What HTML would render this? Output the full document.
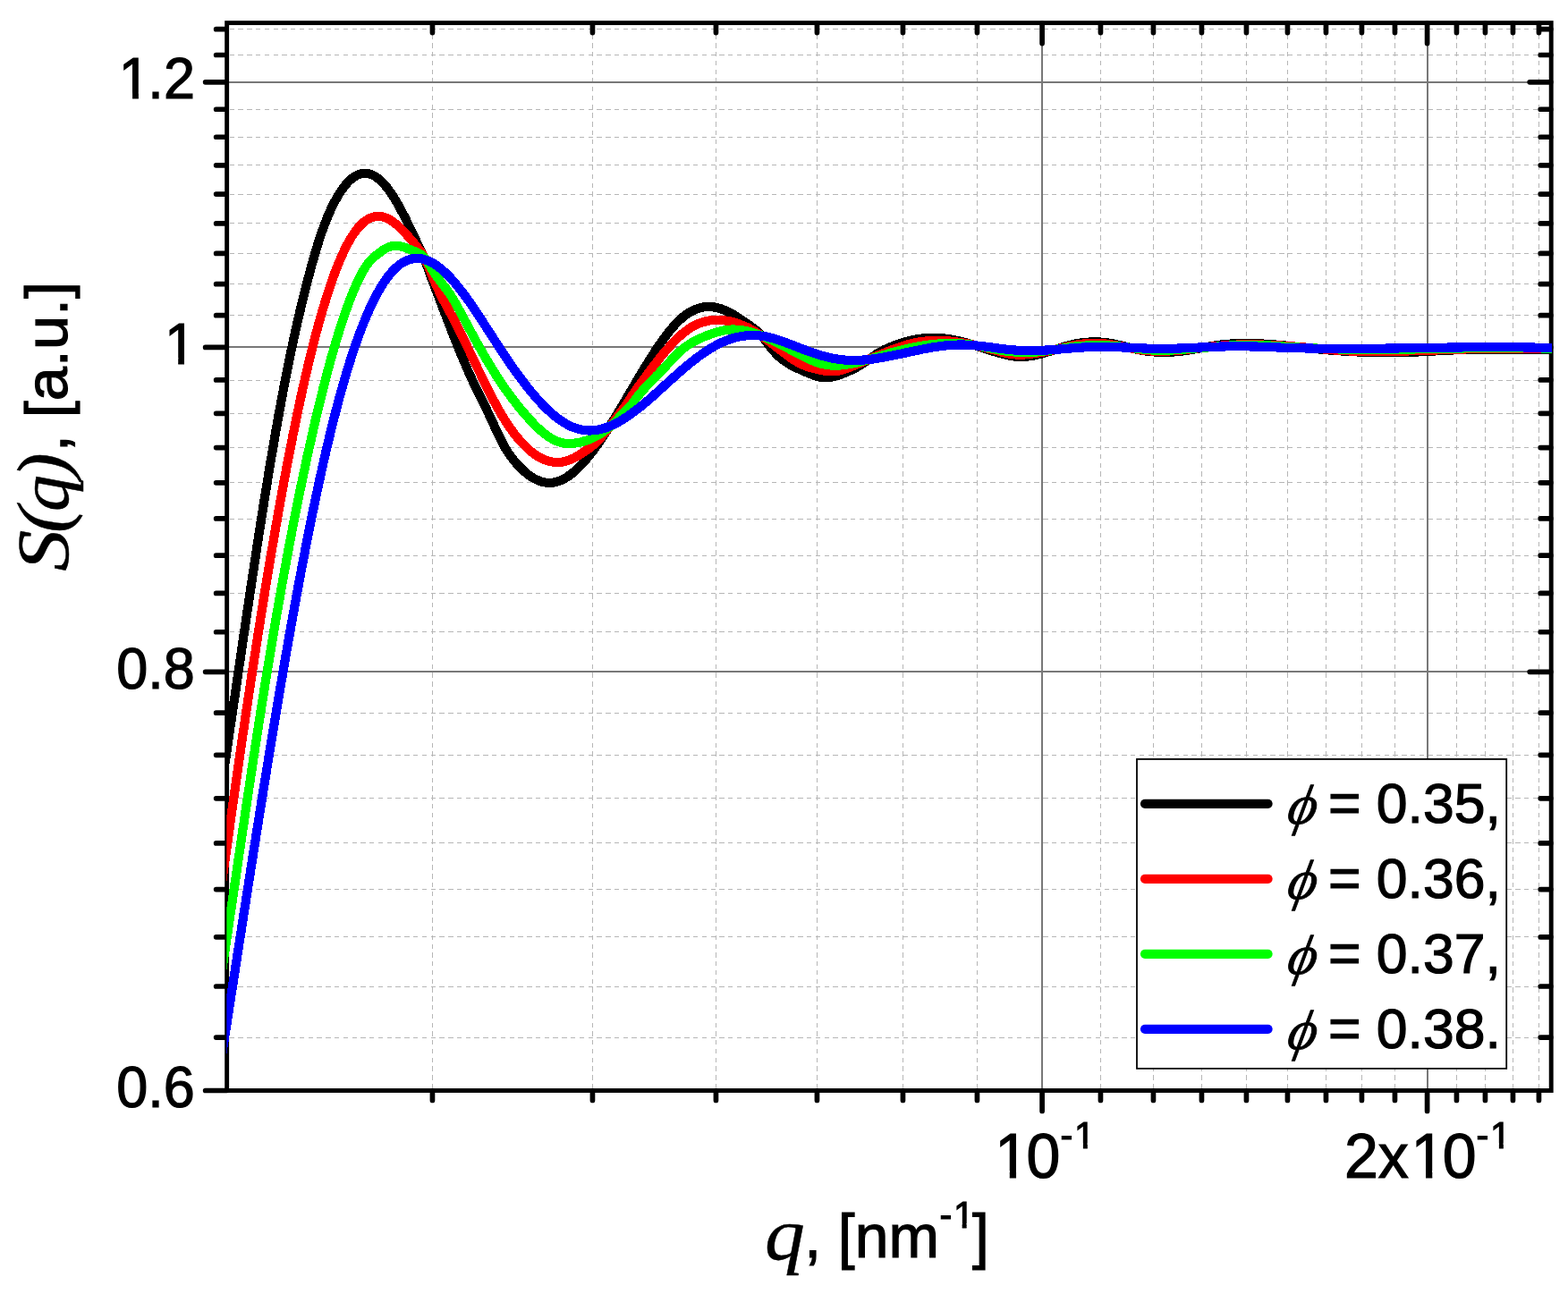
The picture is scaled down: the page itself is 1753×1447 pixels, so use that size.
<!DOCTYPE html>
<html lang="en"><head><meta charset="utf-8"><title>S(q) structure factor</title>
<style>html,body{margin:0;padding:0;background:#fff}body{width:1753px;height:1447px;overflow:hidden}svg{display:block}.s{font-family:"Liberation Sans",Arial,sans-serif;fill:#000;stroke:#000;stroke-width:1.2px;stroke-linejoin:miter}.t{font-family:"Liberation Serif","Times New Roman",serif;font-style:italic;fill:#000;stroke:#000;stroke-width:0.9px}</style></head><body>
<svg width="1753" height="1447" viewBox="0 0 1753 1447">
<rect x="0" y="0" width="1753" height="1447" fill="#fff"/>
<defs><clipPath id="c"><rect x="253.35" y="25.60" width="1481.65" height="1193.90"/></clipPath></defs>
<path d="M483.5 28.6V1219.5M662.5 28.6V1219.5M800.5 28.6V1219.5M913.5 28.6V1219.5M1009.5 28.6V1219.5M1092.5 28.6V1219.5M1230.5 28.6V1219.5M1289.5 28.6V1219.5M1343.5 28.6V1219.5M1393.5 28.6V1219.5M1439.5 28.6V1219.5M1482.5 28.6V1219.5M1522.5 28.6V1219.5M1559.5 28.6V1219.5M1628.5 28.6V1219.5M1660.5 28.6V1219.5M1691.5 28.6V1219.5M1720.5 28.6V1219.5M256.6 1160.5H1734.2M256.6 1103.5H1734.2M256.6 1047.5H1734.2M256.6 994.5H1734.2M256.6 942.5H1734.2M256.6 892.5H1734.2M256.6 844.5H1734.2M256.6 797.5H1734.2M256.6 706.5H1734.2M256.6 663.5H1734.2M256.6 621.5H1734.2M256.6 580.5H1734.2M256.6 539.5H1734.2M256.6 500.5H1734.2M256.6 462.5H1734.2M256.6 425.5H1734.2M256.6 352.5H1734.2M256.6 317.5H1734.2M256.6 283.5H1734.2M256.6 249.5H1734.2M256.6 217.5H1734.2M256.6 184.5H1734.2M256.6 153.5H1734.2M256.6 122.5H1734.2M256.6 61.5H1734.2M256.6 32.5H1734.2" fill="none" stroke="#b6b6b6" stroke-width="1" stroke-dasharray="5.4 4.38" shape-rendering="crispEdges"/>
<path d="M253.65 751.0H1734.20M253.65 388.0H1734.20M253.65 92.0H1734.20M1165.0 25.60V1219.50M1596.0 25.60V1219.50" fill="none" stroke="#787878" stroke-width="2" shape-rendering="crispEdges"/>
<rect x="253.65" y="25.60" width="1480.55" height="1193.90" fill="none" stroke="#000" stroke-width="4.90"/>
<path d="M253.25 1219.50H229.65M253.25 751.33H229.65M1733.80 751.33H1710.20M253.25 388.40H229.65M1733.80 388.40H1710.20M253.25 91.87H229.65M1733.80 91.87H1710.20M253.25 1160.07H241.65M1733.80 1160.07H1722.20M253.25 1103.00H241.65M1733.80 1103.00H1722.20M253.25 1047.86H241.65M1733.80 1047.86H1722.20M253.25 994.53H241.65M1733.80 994.53H1722.20M253.25 942.89H241.65M1733.80 942.89H1722.20M253.25 892.85H241.65M1733.80 892.85H1722.20M253.25 844.29H241.65M1733.80 844.29H1722.20M253.25 797.15H241.65M1733.80 797.15H1722.20M253.25 706.77H241.65M1733.80 706.77H1722.20M253.25 663.39H241.65M1733.80 663.39H1722.20M253.25 621.14H241.65M1733.80 621.14H1722.20M253.25 579.97H241.65M1733.80 579.97H1722.20M253.25 539.81H241.65M1733.80 539.81H1722.20M253.25 500.61H241.65M1733.80 500.61H1722.20M253.25 462.34H241.65M1733.80 462.34H1722.20M253.25 424.95H241.65M1733.80 424.95H1722.20M253.25 352.65H241.65M1733.80 352.65H1722.20M253.25 317.67H241.65M1733.80 317.67H1722.20M253.25 283.43H241.65M1733.80 283.43H1722.20M253.25 249.90H241.65M1733.80 249.90H1722.20M253.25 217.04H241.65M1733.80 217.04H1722.20M253.25 184.83H241.65M1733.80 184.83H1722.20M253.25 153.25H241.65M1733.80 153.25H1722.20M253.25 122.27H241.65M1733.80 122.27H1722.20M253.25 61.50H241.65M1733.80 61.50H1722.20M253.25 32.72H241.65M1733.80 32.72H1722.20M1165.10 1219.90V1242.50M1165.10 26.00V48.60M1595.60 1219.90V1242.50M1595.60 26.00V48.60M483.45 1219.90V1230.50M483.45 26.00V36.60M662.45 1219.90V1230.50M662.45 26.00V36.60M800.45 1219.90V1230.50M800.45 26.00V36.60M913.45 1219.90V1230.50M913.45 26.00V36.60M1009.45 1219.90V1230.50M1009.45 26.00V36.60M1092.45 1219.90V1230.50M1092.45 26.00V36.60M1230.45 1219.90V1230.50M1230.45 26.00V36.60M1289.45 1219.90V1230.50M1289.45 26.00V36.60M1343.45 1219.90V1230.50M1343.45 26.00V36.60M1393.45 1219.90V1230.50M1393.45 26.00V36.60M1439.45 1219.90V1230.50M1439.45 26.00V36.60M1482.45 1219.90V1230.50M1482.45 26.00V36.60M1522.45 1219.90V1230.50M1522.45 26.00V36.60M1559.45 1219.90V1230.50M1559.45 26.00V36.60M1628.45 1219.90V1230.50M1628.45 26.00V36.60M1660.45 1219.90V1230.50M1660.45 26.00V36.60M1691.45 1219.90V1230.50M1691.45 26.00V36.60M1720.45 1219.90V1230.50M1720.45 26.00V36.60" fill="none" stroke="#000" stroke-width="5.70" stroke-linecap="round"/>
<g clip-path="url(#c)" stroke="none" shape-rendering="crispEdges">
<path d="M251.0 890.6L253.2 876.4L255.3 862.2L257.5 847.8L259.6 833.3L261.7 818.8L263.9 804.3L266.0 789.7L268.2 775.2L270.3 760.6L272.4 746.0L274.6 731.4L276.7 716.8L278.9 702.3L281.0 687.9L283.1 673.5L285.3 659.1L287.4 644.9L289.6 630.7L291.7 616.7L293.8 602.8L296.0 589.0L298.1 575.3L300.3 561.8L302.4 548.5L304.5 535.4L306.7 522.4L308.8 509.6L311.0 497.1L313.1 484.8L315.2 472.7L317.4 460.8L319.5 449.2L321.6 437.9L323.8 426.8L325.9 416.0L328.0 405.4L330.2 395.0L332.3 384.9L334.4 375.1L336.6 365.5L338.7 356.1L340.9 347.0L343.0 338.1L345.1 329.4L347.2 321.0L349.4 312.8L351.5 304.8L353.6 297.1L355.8 289.6L357.9 282.3L360.0 275.2L362.1 268.5L364.3 262.1L366.4 256.1L368.5 250.6L370.6 245.3L372.7 240.5L374.7 235.9L376.8 231.5L378.9 227.5L381.0 223.7L383.0 220.2L385.1 217.0L387.1 214.1L389.1 211.4L391.1 209.0L393.0 206.9L395.0 205.0L396.8 203.4L398.6 202.1L400.4 201.0L402.1 200.2L403.8 199.6L405.4 199.2L406.9 199.0L408.5 198.9L410.1 199.1L411.6 199.4L413.3 199.9L415.0 200.6L416.7 201.6L418.5 202.8L420.4 204.2L422.3 205.9L424.2 207.8L426.2 209.9L428.2 212.4L430.2 215.0L432.3 217.9L434.3 221.0L436.4 224.3L438.5 227.7L440.6 231.4L442.7 235.2L444.8 239.1L446.9 243.2L449.0 247.4L451.2 251.7L453.3 256.0L455.4 260.5L457.5 265.0L459.7 269.5L461.8 274.1L464.0 278.6L466.1 282.9L468.2 287.3L470.2 292.3L472.3 298.1L474.5 304.2L476.6 310.2L478.8 315.9L480.9 321.5L483.1 327.1L485.2 332.7L487.4 338.4L489.5 344.0L491.6 349.6L493.8 355.2L495.9 360.8L498.1 366.4L500.2 371.9L502.4 377.4L504.5 382.8L506.7 388.2L508.8 393.5L511.0 398.7L513.1 403.9L515.3 409.0L517.4 413.9L519.6 418.8L521.7 423.6L523.9 428.3L526.0 432.8L528.2 437.2L530.4 441.6L532.5 445.9L534.6 450.2L536.8 454.5L538.9 458.9L541.0 463.3L543.1 467.9L545.3 472.5L547.4 477.2L549.6 481.8L551.7 486.5L553.9 491.0L556.1 495.4L558.3 499.6L560.5 503.5L562.7 507.2L565.0 510.6L567.2 513.8L569.5 516.7L571.7 519.4L573.9 522.0L576.2 524.4L578.4 526.8L580.6 529.0L582.9 531.0L585.2 533.0L587.5 534.8L589.8 536.5L592.1 538.0L594.5 539.4L596.9 540.7L599.3 541.8L601.7 542.8L604.1 543.6L606.6 544.2L609.1 544.6L611.6 544.9L614.1 545.0L616.6 544.9L619.1 544.6L621.6 544.2L624.1 543.5L626.5 542.8L629.0 541.8L631.3 540.7L633.7 539.5L636.1 538.1L638.4 536.6L640.7 534.9L643.0 533.2L645.3 531.3L647.5 529.3L649.8 527.2L652.0 524.9L654.2 522.6L656.4 520.2L658.7 517.7L660.9 515.0L663.0 512.3L665.2 509.5L667.4 506.7L669.6 503.7L671.8 500.7L673.9 497.6L676.1 494.4L678.3 491.2L680.4 488.0L682.6 484.6L684.8 481.3L686.9 477.8L689.1 474.4L691.2 470.9L693.4 467.4L695.5 463.8L697.7 460.2L699.8 456.6L702.0 453.0L704.1 449.4L706.3 445.7L708.4 442.1L710.5 438.4L712.7 434.8L714.8 431.2L717.0 427.5L719.1 424.0L721.2 420.4L723.3 416.8L725.5 413.3L727.6 409.9L729.7 406.4L731.9 403.1L734.0 399.7L736.1 396.5L738.2 393.2L740.3 390.1L742.4 387.0L744.5 384.0L746.6 381.1L748.7 378.3L750.8 375.6L752.9 373.0L755.0 370.5L757.0 368.1L759.1 365.8L761.1 363.7L763.2 361.7L765.2 359.9L767.1 358.2L769.1 356.7L771.1 355.3L773.0 354.0L775.0 352.9L776.9 351.9L778.8 351.0L780.7 350.2L782.6 349.6L784.4 349.1L786.3 348.7L788.1 348.4L790.0 348.2L791.8 348.1L793.7 348.1L795.5 348.3L797.4 348.5L799.3 348.8L801.2 349.3L803.1 349.8L805.1 350.4L807.0 351.1L809.0 351.9L811.0 352.8L813.0 353.8L815.0 354.9L817.0 356.0L819.0 357.2L821.1 358.5L823.2 359.9L825.3 361.3L827.4 362.8L829.5 364.3L831.6 365.8L833.8 367.3L835.9 368.7L838.0 370.2L840.0 371.6L842.0 373.2L843.9 374.9L845.9 376.7L847.8 378.9L849.8 381.3L851.9 384.1L854.0 387.0L856.2 390.0L858.4 392.8L860.7 395.5L863.0 398.0L865.2 400.3L867.5 402.5L869.8 404.4L872.1 406.3L874.4 408.0L876.7 409.6L879.0 411.0L881.2 412.4L883.5 413.6L885.8 414.8L888.0 415.9L890.2 416.9L892.4 417.9L894.6 418.9L896.7 419.8L898.9 420.7L901.1 421.6L903.3 422.6L905.5 423.4L907.7 424.3L910.0 425.1L912.4 425.8L914.8 426.4L917.2 426.9L919.7 427.2L922.2 427.3L924.7 427.3L927.1 427.1L929.5 426.8L931.9 426.4L934.3 425.8L936.6 425.2L938.9 424.5L941.1 423.7L943.4 422.9L945.6 422.0L947.8 421.1L950.1 420.1L952.3 419.1L954.5 418.1L956.7 416.9L959.0 415.8L961.2 414.5L963.4 413.3L965.6 411.9L967.9 410.5L970.1 409.1L972.3 407.6L974.5 406.0L976.6 404.5L978.7 403.0L980.8 401.6L982.9 400.2L984.9 398.9L986.9 397.8L988.9 396.7L990.9 395.7L992.9 394.8L994.9 393.9L997.0 393.0L999.1 392.2L1001.2 391.4L1003.3 390.6L1005.3 389.8L1007.4 389.1L1009.5 388.4L1011.5 387.8L1013.6 387.2L1015.7 386.6L1017.7 386.1L1019.8 385.6L1021.8 385.1L1023.8 384.7L1025.9 384.4L1027.9 384.0L1030.0 383.8L1032.0 383.5L1034.0 383.3L1036.1 383.2L1038.1 383.0L1040.2 383.0L1042.2 382.9L1044.3 382.9L1046.3 382.9L1048.3 383.0L1050.4 383.1L1052.4 383.3L1054.5 383.5L1056.5 383.7L1058.6 383.9L1060.6 384.2L1062.7 384.6L1064.7 385.0L1066.8 385.4L1068.9 385.8L1070.9 386.3L1073.0 386.8L1075.1 387.3L1077.2 387.9L1079.3 388.5L1081.4 389.1L1083.5 389.7L1085.6 390.3L1087.7 391.0L1089.9 391.6L1092.0 392.3L1094.1 393.0L1096.2 393.7L1098.4 394.3L1100.5 395.0L1102.7 395.7L1104.8 396.4L1107.0 397.1L1109.2 397.7L1111.3 398.4L1113.5 399.0L1115.7 399.6L1117.9 400.2L1120.1 400.8L1122.3 401.4L1124.5 401.9L1126.7 402.4L1129.0 402.8L1131.3 403.2L1133.5 403.5L1135.8 403.8L1138.2 404.0L1140.5 404.1L1142.8 404.1L1145.1 404.0L1147.4 403.9L1149.7 403.6L1152.0 403.3L1154.3 403.0L1156.5 402.6L1158.8 402.1L1161.0 401.6L1163.3 401.1L1165.5 400.5L1167.7 399.9L1169.9 399.3L1172.0 398.6L1174.2 397.9L1176.4 397.3L1178.5 396.6L1180.7 395.9L1182.8 395.2L1184.9 394.5L1187.1 393.8L1189.2 393.2L1191.3 392.6L1193.4 392.0L1195.4 391.4L1197.5 390.8L1199.6 390.3L1201.6 389.9L1203.7 389.4L1205.7 389.1L1207.7 388.7L1209.8 388.4L1211.8 388.2L1213.9 387.9L1215.9 387.8L1217.9 387.6L1220.0 387.5L1222.0 387.5L1224.0 387.5L1226.1 387.5L1228.1 387.6L1230.2 387.7L1232.2 387.8L1234.2 388.0L1236.3 388.3L1238.3 388.6L1240.4 388.9L1242.4 389.2L1244.5 389.6L1246.5 390.1L1248.6 390.6L1250.7 391.1L1252.8 391.6L1254.9 392.1L1257.1 392.6L1259.2 393.2L1261.4 393.7L1263.5 394.2L1265.7 394.8L1267.9 395.3L1270.1 395.7L1272.3 396.2L1274.5 396.6L1276.8 397.0L1279.0 397.3L1281.2 397.6L1283.4 397.9L1285.6 398.1L1287.8 398.4L1290.0 398.5L1292.3 398.7L1294.5 398.8L1296.7 398.9L1298.9 398.9L1301.1 399.0L1303.3 398.9L1305.5 398.9L1307.7 398.8L1309.9 398.7L1312.2 398.6L1314.4 398.4L1316.6 398.3L1318.8 398.0L1321.0 397.8L1323.2 397.5L1325.4 397.2L1327.6 396.9L1329.7 396.6L1331.9 396.2L1334.1 395.9L1336.2 395.5L1338.4 395.1L1340.6 394.7L1342.7 394.3L1344.8 393.9L1347.0 393.5L1349.1 393.2L1351.2 392.8L1353.3 392.4L1355.4 392.1L1357.6 391.7L1359.7 391.4L1361.7 391.1L1363.8 390.8L1365.9 390.6L1368.0 390.3L1370.1 390.1L1372.2 389.9L1374.3 389.8L1376.4 389.6L1378.5 389.5L1380.6 389.4L1382.6 389.3L1384.7 389.2L1386.8 389.2L1388.9 389.1L1391.0 389.1L1393.1 389.1L1395.2 389.1L1397.4 389.1L1399.5 389.2L1401.6 389.2L1403.7 389.3L1405.8 389.4L1407.9 389.4L1410.0 389.5L1412.1 389.7L1414.2 389.8L1416.4 389.9L1418.5 390.1L1420.6 390.2L1422.7 390.4L1424.8 390.6L1427.0 390.7L1429.1 390.9L1431.2 391.1L1433.3 391.3L1435.5 391.5L1437.6 391.7L1439.7 392.0L1441.8 392.2L1444.0 392.4L1446.1 392.6L1448.3 392.8L1450.4 393.1L1452.5 393.3L1454.7 393.5L1456.8 393.8L1459.0 394.0L1461.1 394.2L1463.2 394.4L1465.4 394.7L1467.5 394.9L1469.7 395.1L1471.8 395.3L1474.0 395.5L1476.1 395.7L1478.3 395.9L1480.4 396.1L1482.6 396.3L1484.8 396.5L1486.9 396.7L1489.1 396.8L1491.2 397.0L1493.4 397.2L1495.5 397.3L1497.7 397.4L1499.8 397.6L1502.0 397.7L1504.1 397.8L1506.3 398.0L1508.5 398.1L1510.6 398.2L1512.8 398.3L1514.9 398.4L1517.1 398.5L1519.2 398.6L1521.4 398.6L1523.5 398.7L1525.7 398.8L1527.8 398.8L1530.0 398.9L1532.1 398.9L1534.3 399.0L1536.5 399.0L1538.6 399.1L1540.8 399.1L1542.9 399.1L1545.1 399.1L1547.2 399.1L1549.4 399.1L1551.5 399.1L1553.7 399.1L1555.8 399.1L1558.0 399.1L1560.1 399.1L1562.3 399.1L1564.4 399.0L1566.6 399.0L1568.7 399.0L1570.9 398.9L1573.1 398.9L1575.2 398.8L1577.4 398.8L1579.5 398.7L1581.7 398.6L1583.8 398.5L1586.0 398.5L1588.1 398.4L1590.3 398.3L1592.4 398.2L1594.6 398.1L1596.7 398.0L1598.9 397.9L1601.0 397.8L1603.2 397.7L1605.3 397.5L1607.4 397.4L1609.6 397.3L1611.7 397.2L1613.9 397.1L1616.0 397.0L1618.1 396.9L1620.3 396.8L1622.4 396.6L1624.5 396.5L1626.7 396.4L1628.8 396.3L1630.9 396.2L1633.1 396.1L1635.2 396.1L1637.3 396.0L1639.4 395.9L1641.6 395.8L1643.7 395.8L1645.8 395.7L1647.9 395.7L1650.1 395.6L1652.2 395.6L1654.3 395.6L1656.5 395.5L1658.6 395.5L1660.7 395.5L1662.8 395.5L1665.0 395.5L1667.1 395.5L1669.2 395.5L1671.4 395.5L1673.5 395.5L1675.6 395.5L1677.8 395.5L1679.9 395.5L1682.0 395.5L1684.2 395.5L1686.3 395.5L1688.5 395.5L1690.6 395.6L1692.7 395.6L1694.9 395.6L1697.0 395.6L1699.2 395.6L1701.3 395.6L1703.4 395.6L1705.6 395.7L1707.7 395.7L1709.9 395.7L1712.0 395.7L1714.2 395.7L1716.3 395.7L1718.5 395.7L1720.6 395.7L1722.8 395.7L1724.9 395.7L1727.1 395.7L1729.2 395.7L1731.4 395.6L1733.5 395.6L1735.7 395.6L1737.8 395.6L1740.0 395.5L1742.1 395.5L1741.9 385.3L1739.8 385.3L1737.6 385.4L1735.5 385.4L1733.4 385.4L1731.2 385.4L1729.1 385.5L1727.0 385.5L1724.9 385.5L1722.7 385.5L1720.6 385.5L1718.5 385.5L1716.3 385.5L1714.2 385.5L1712.1 385.5L1709.9 385.5L1707.8 385.5L1705.6 385.5L1703.5 385.4L1701.4 385.4L1699.2 385.4L1697.1 385.4L1695.0 385.4L1692.8 385.4L1690.7 385.4L1688.5 385.3L1686.4 385.3L1684.2 385.3L1682.1 385.3L1680.0 385.3L1677.8 385.3L1675.7 385.3L1673.5 385.3L1671.4 385.3L1669.2 385.3L1667.1 385.3L1664.9 385.3L1662.8 385.3L1660.6 385.3L1658.5 385.3L1656.3 385.3L1654.2 385.4L1652.0 385.4L1649.9 385.4L1647.7 385.5L1645.6 385.5L1643.4 385.6L1641.3 385.6L1639.1 385.7L1636.9 385.8L1634.8 385.9L1632.6 386.0L1630.5 386.0L1628.3 386.1L1626.2 386.2L1624.0 386.3L1621.9 386.5L1619.7 386.6L1617.6 386.7L1615.5 386.8L1613.3 386.9L1611.2 387.0L1609.0 387.1L1606.9 387.2L1604.8 387.4L1602.6 387.5L1600.5 387.6L1598.4 387.7L1596.2 387.8L1594.1 387.9L1592.0 388.0L1589.8 388.1L1587.7 388.2L1585.6 388.3L1583.4 388.3L1581.3 388.4L1579.2 388.5L1577.1 388.6L1574.9 388.6L1572.8 388.7L1570.7 388.7L1568.5 388.8L1566.4 388.8L1564.3 388.8L1562.2 388.9L1560.0 388.9L1557.9 388.9L1555.8 388.9L1553.6 388.9L1551.5 388.9L1549.4 388.9L1547.3 388.9L1545.1 388.9L1543.0 388.9L1540.9 388.9L1538.8 388.9L1536.6 388.8L1534.5 388.8L1532.4 388.7L1530.2 388.7L1528.1 388.6L1526.0 388.6L1523.9 388.5L1521.7 388.4L1519.6 388.4L1517.5 388.3L1515.4 388.2L1513.2 388.1L1511.1 388.0L1509.0 387.9L1506.9 387.8L1504.7 387.7L1502.6 387.5L1500.5 387.4L1498.3 387.3L1496.2 387.1L1494.1 387.0L1492.0 386.8L1489.8 386.7L1487.7 386.5L1485.6 386.3L1483.5 386.2L1481.3 386.0L1479.2 385.8L1477.1 385.6L1475.0 385.4L1472.8 385.2L1470.7 385.0L1468.6 384.7L1466.4 384.5L1464.3 384.3L1462.2 384.1L1460.0 383.8L1457.9 383.6L1455.8 383.4L1453.6 383.2L1451.5 382.9L1449.3 382.7L1447.2 382.5L1445.0 382.2L1442.9 382.0L1440.7 381.8L1438.6 381.6L1436.4 381.4L1434.3 381.2L1432.1 381.0L1430.0 380.8L1427.8 380.6L1425.7 380.4L1423.5 380.2L1421.4 380.1L1419.2 379.9L1417.0 379.7L1414.9 379.6L1412.7 379.5L1410.5 379.4L1408.4 379.3L1406.2 379.2L1404.0 379.1L1401.9 379.0L1399.7 379.0L1397.5 378.9L1395.3 378.9L1393.2 378.9L1391.0 378.9L1388.8 378.9L1386.6 379.0L1384.4 379.0L1382.2 379.1L1380.1 379.2L1377.9 379.3L1375.7 379.4L1373.5 379.6L1371.3 379.8L1369.1 380.0L1366.9 380.2L1364.7 380.4L1362.5 380.7L1360.3 381.0L1358.2 381.3L1356.0 381.7L1353.8 382.0L1351.6 382.4L1349.5 382.7L1347.3 383.1L1345.2 383.5L1343.0 383.9L1340.9 384.3L1338.7 384.7L1336.6 385.1L1334.5 385.4L1332.4 385.8L1330.3 386.2L1328.1 386.5L1326.0 386.8L1324.0 387.1L1321.9 387.4L1319.8 387.7L1317.7 387.9L1315.6 388.1L1313.6 388.3L1311.5 388.4L1309.4 388.6L1307.3 388.6L1305.3 388.7L1303.2 388.7L1301.1 388.8L1299.1 388.7L1297.0 388.7L1294.9 388.6L1292.9 388.5L1290.8 388.4L1288.7 388.2L1286.7 388.0L1284.6 387.8L1282.5 387.5L1280.5 387.2L1278.4 386.9L1276.3 386.5L1274.3 386.2L1272.2 385.8L1270.1 385.3L1268.0 384.8L1265.9 384.3L1263.8 383.8L1261.7 383.3L1259.6 382.7L1257.4 382.2L1255.3 381.7L1253.1 381.1L1250.9 380.6L1248.7 380.1L1246.5 379.7L1244.3 379.2L1242.0 378.8L1239.8 378.5L1237.6 378.2L1235.3 377.9L1233.1 377.7L1230.8 377.5L1228.6 377.4L1226.3 377.3L1224.1 377.3L1221.9 377.3L1219.6 377.4L1217.4 377.5L1215.1 377.6L1212.9 377.8L1210.6 378.0L1208.4 378.3L1206.2 378.6L1203.9 379.0L1201.7 379.4L1199.4 379.9L1197.2 380.4L1195.0 381.0L1192.8 381.5L1190.6 382.1L1188.4 382.8L1186.2 383.4L1184.0 384.1L1181.9 384.8L1179.7 385.5L1177.6 386.2L1175.4 386.8L1173.3 387.5L1171.2 388.2L1169.1 388.8L1167.0 389.5L1164.9 390.1L1162.8 390.6L1160.8 391.2L1158.7 391.7L1156.7 392.1L1154.6 392.6L1152.6 392.9L1150.6 393.2L1148.6 393.5L1146.6 393.7L1144.6 393.8L1142.7 393.9L1140.7 393.9L1138.8 393.8L1136.8 393.6L1134.8 393.4L1132.8 393.1L1130.8 392.8L1128.8 392.4L1126.7 391.9L1124.7 391.5L1122.6 390.9L1120.5 390.4L1118.4 389.8L1116.3 389.2L1114.2 388.6L1112.1 388.0L1110.0 387.3L1107.9 386.7L1105.8 386.0L1103.6 385.3L1101.5 384.6L1099.4 383.9L1097.2 383.3L1095.1 382.6L1092.9 381.9L1090.7 381.2L1088.6 380.6L1086.4 379.9L1084.2 379.3L1082.1 378.6L1079.9 378.0L1077.7 377.5L1075.5 376.9L1073.3 376.4L1071.1 375.9L1068.9 375.4L1066.7 374.9L1064.4 374.5L1062.2 374.2L1060.0 373.8L1057.7 373.6L1055.5 373.3L1053.3 373.1L1051.0 372.9L1048.8 372.8L1046.6 372.7L1044.3 372.7L1042.1 372.7L1039.9 372.8L1037.6 372.8L1035.4 373.0L1033.1 373.2L1030.9 373.4L1028.7 373.6L1026.4 374.0L1024.2 374.3L1021.9 374.7L1019.7 375.2L1017.5 375.6L1015.2 376.2L1013.0 376.8L1010.8 377.4L1008.6 378.0L1006.4 378.7L1004.1 379.4L1001.9 380.2L999.7 381.0L997.5 381.8L995.3 382.7L993.1 383.6L990.9 384.5L988.7 385.5L986.4 386.5L984.2 387.7L981.9 388.9L979.6 390.2L977.3 391.6L975.1 393.1L972.9 394.7L970.7 396.2L968.6 397.7L966.5 399.2L964.4 400.6L962.4 401.9L960.3 403.2L958.2 404.5L956.2 405.7L954.1 406.8L952.1 407.9L950.0 408.9L948.0 409.9L945.9 410.8L943.9 411.7L941.8 412.5L939.8 413.3L937.7 414.1L935.7 414.8L933.7 415.4L931.8 415.9L929.8 416.4L927.9 416.7L926.1 417.0L924.2 417.1L922.4 417.1L920.6 417.0L918.8 416.8L917.0 416.4L915.1 415.9L913.2 415.4L911.2 414.7L909.2 413.9L907.1 413.1L905.0 412.2L902.9 411.3L900.8 410.4L898.7 409.5L896.6 408.6L894.5 407.6L892.4 406.7L890.4 405.7L888.3 404.6L886.3 403.5L884.3 402.3L882.3 401.1L880.3 399.7L878.3 398.2L876.3 396.6L874.4 394.9L872.4 393.0L870.4 391.0L868.4 388.8L866.3 386.4L864.3 383.8L862.2 381.0L860.1 378.0L857.8 375.1L855.5 372.2L853.2 369.7L850.9 367.4L848.5 365.3L846.2 363.5L843.9 361.9L841.7 360.3L839.6 358.9L837.5 357.4L835.3 355.9L833.2 354.4L831.0 352.9L828.8 351.4L826.6 350.0L824.4 348.5L822.1 347.2L819.9 345.9L817.6 344.7L815.3 343.6L813.0 342.6L810.7 341.6L808.4 340.8L806.1 340.0L803.7 339.4L801.3 338.8L798.9 338.4L796.5 338.1L794.1 337.9L791.7 337.9L789.2 338.0L786.8 338.3L784.4 338.6L782.0 339.2L779.5 339.8L777.1 340.7L774.8 341.6L772.4 342.7L770.0 344.0L767.7 345.3L765.3 346.8L763.0 348.5L760.7 350.3L758.4 352.2L756.1 354.3L753.9 356.5L751.6 358.9L749.4 361.3L747.2 363.9L745.0 366.5L742.8 369.3L740.6 372.1L738.4 375.1L736.2 378.1L734.1 381.2L731.9 384.4L729.7 387.6L727.6 390.9L725.4 394.2L723.2 397.6L721.1 401.0L718.9 404.5L716.8 408.0L714.6 411.6L712.5 415.1L710.3 418.7L708.2 422.3L706.0 426.0L703.9 429.6L701.7 433.3L699.6 436.9L697.5 440.5L695.3 444.2L693.2 447.8L691.1 451.4L688.9 455.0L686.8 458.5L684.7 462.1L682.5 465.6L680.4 469.0L678.3 472.4L676.2 475.8L674.0 479.1L671.9 482.4L669.8 485.6L667.7 488.7L665.6 491.8L663.5 494.8L661.4 497.7L659.3 500.5L657.2 503.3L655.1 506.0L653.0 508.5L650.9 511.0L648.8 513.4L646.8 515.7L644.7 517.8L642.7 519.8L640.6 521.8L638.6 523.5L636.6 525.2L634.6 526.7L632.6 528.1L630.7 529.4L628.8 530.6L626.8 531.6L625.0 532.4L623.1 533.2L621.3 533.8L619.4 534.2L617.6 534.5L615.9 534.7L614.1 534.8L612.3 534.7L610.6 534.6L608.8 534.2L607.0 533.8L605.1 533.2L603.3 532.4L601.4 531.6L599.5 530.6L597.6 529.4L595.6 528.1L593.7 526.7L591.7 525.1L589.7 523.4L587.7 521.5L585.6 519.6L583.6 517.5L581.5 515.2L579.5 512.8L577.4 510.3L575.4 507.7L573.4 504.8L571.3 501.8L569.3 498.4L567.2 494.7L565.2 490.7L563.1 486.5L560.9 482.1L558.8 477.5L556.7 472.9L554.5 468.2L552.4 463.6L550.2 459.0L548.1 454.5L545.9 450.1L543.8 445.7L541.6 441.4L539.5 437.1L537.4 432.8L535.2 428.4L533.1 423.9L531.0 419.3L528.9 414.7L526.8 409.9L524.6 404.9L522.5 399.9L520.4 394.8L518.2 389.6L516.1 384.4L514.0 379.1L511.9 373.7L509.7 368.2L507.6 362.7L505.4 357.2L503.3 351.6L501.2 346.0L499.0 340.4L496.9 334.7L494.7 329.1L492.6 323.5L490.5 317.9L488.3 312.3L486.2 306.7L484.1 300.8L481.9 294.7L479.8 288.6L477.5 283.2L475.3 278.5L473.2 274.1L471.0 269.7L468.9 265.2L466.8 260.6L464.6 256.1L462.5 251.6L460.3 247.2L458.2 242.8L456.0 238.5L453.8 234.4L451.7 230.3L449.5 226.4L447.3 222.6L445.1 218.9L442.9 215.4L440.7 212.1L438.4 209.0L436.2 206.0L433.9 203.3L431.6 200.7L429.3 198.4L426.9 196.3L424.5 194.5L422.0 192.8L419.4 191.5L416.9 190.3L414.2 189.5L411.5 189.0L408.8 188.7L406.1 188.8L403.4 189.2L400.7 189.9L398.1 190.8L395.5 192.1L393.0 193.6L390.5 195.4L388.1 197.5L385.7 199.8L383.4 202.3L381.1 205.1L378.8 208.1L376.6 211.4L374.3 214.9L372.1 218.7L369.9 222.7L367.7 227.0L365.5 231.5L363.3 236.3L361.1 241.4L359.0 246.9L356.8 252.7L354.6 258.8L352.4 265.4L350.3 272.2L348.1 279.4L346.0 286.7L343.8 294.3L341.7 302.2L339.5 310.2L337.4 318.5L335.2 327.0L333.1 335.7L330.9 344.6L328.8 353.8L326.6 363.2L324.5 372.9L322.3 382.8L320.2 393.0L318.1 403.3L315.9 414.0L313.8 424.9L311.6 436.0L309.5 447.4L307.3 459.0L305.2 470.9L303.0 483.0L300.9 495.4L298.8 507.9L296.6 520.7L294.5 533.7L292.3 546.9L290.2 560.2L288.0 573.7L285.9 587.4L283.8 601.2L281.6 615.2L279.5 629.2L277.3 643.4L275.2 657.6L273.1 672.0L270.9 686.4L268.8 700.8L266.6 715.4L264.5 729.9L262.4 744.5L260.2 759.1L258.1 773.7L255.9 788.3L253.8 802.8L251.7 817.4L249.5 831.8L247.4 846.3L245.2 860.6L243.1 874.9L241.0 889.1Z" fill="#000000"/>
<path d="M251.1 1002.9L253.2 987.3L255.3 971.7L257.5 956.3L259.6 940.9L261.8 925.6L263.9 910.4L266.0 895.2L268.2 880.2L270.3 865.3L272.4 850.4L274.6 835.7L276.7 821.1L278.9 806.5L281.0 792.1L283.1 777.9L285.3 763.7L287.4 749.6L289.6 735.7L291.7 721.9L293.8 708.2L296.0 694.7L298.1 681.3L300.3 668.1L302.4 655.0L304.5 642.0L306.7 629.2L308.8 616.5L311.0 604.0L313.1 591.7L315.2 579.5L317.4 567.5L319.5 555.7L321.6 544.0L323.8 532.6L325.9 521.3L328.1 510.1L330.2 499.2L332.3 488.5L334.5 477.9L336.6 467.6L338.7 457.4L340.9 447.5L343.0 437.7L345.1 428.2L347.3 418.9L349.4 409.8L351.5 400.9L353.7 392.3L355.8 383.8L357.9 375.6L360.1 367.7L362.2 359.9L364.3 352.4L366.5 345.2L368.6 338.2L370.7 331.4L372.8 324.9L375.0 318.6L377.1 312.6L379.2 306.8L381.3 301.3L383.4 296.0L385.5 291.0L387.6 286.3L389.7 281.8L391.8 277.6L393.9 273.7L395.9 270.1L398.0 266.7L400.0 263.6L402.0 260.9L404.0 258.3L406.0 256.1L407.9 254.1L409.8 252.4L411.6 251.0L413.4 249.8L415.2 248.9L416.9 248.1L418.5 247.6L420.2 247.2L421.8 247.1L423.4 247.1L425.1 247.2L426.7 247.5L428.5 248.0L430.2 248.7L432.0 249.5L433.9 250.6L435.8 251.8L437.7 253.1L439.6 254.7L441.6 256.4L443.6 258.3L445.7 260.3L447.8 262.5L449.8 264.7L451.9 267.0L454.0 269.4L456.1 271.9L458.3 274.4L460.4 277.0L462.5 279.5L464.5 282.2L466.5 284.9L468.5 287.8L470.5 291.3L472.5 295.5L474.6 300.3L476.7 305.4L478.8 310.8L481.0 316.1L483.2 321.3L485.4 326.1L487.5 330.7L489.7 335.1L491.9 339.3L494.1 343.4L496.2 347.3L498.3 351.3L500.5 355.2L502.6 359.2L504.7 363.3L506.8 367.5L509.0 371.7L511.1 376.0L513.2 380.4L515.4 384.8L517.5 389.2L519.6 393.6L521.8 398.1L523.9 402.6L526.0 407.1L528.2 411.6L530.3 416.1L532.5 420.5L534.6 425.0L536.8 429.3L538.9 433.7L541.1 438.0L543.2 442.2L545.4 446.4L547.5 450.5L549.7 454.5L551.9 458.5L554.0 462.3L556.2 466.0L558.4 469.6L560.6 473.1L562.8 476.5L565.0 479.8L567.2 482.9L569.3 486.0L571.6 488.9L573.8 491.7L576.0 494.4L578.2 497.0L580.4 499.4L582.7 501.7L584.9 503.9L587.2 506.0L589.4 508.0L591.7 509.8L594.0 511.6L596.3 513.2L598.6 514.6L601.0 516.0L603.3 517.2L605.7 518.3L608.1 519.3L610.5 520.1L612.9 520.8L615.3 521.3L617.7 521.7L620.2 521.9L622.6 522.1L625.0 522.0L627.5 521.8L629.9 521.5L632.4 521.0L634.8 520.4L637.2 519.6L639.6 518.7L642.0 517.7L644.3 516.5L646.6 515.3L648.8 514.0L651.1 512.6L653.3 511.2L655.5 509.8L657.7 508.3L659.9 506.8L662.1 505.1L664.4 503.4L666.7 501.5L669.0 499.4L671.2 497.2L673.5 494.9L675.7 492.5L677.9 489.9L680.1 487.3L682.3 484.6L684.5 481.8L686.6 479.0L688.8 476.2L691.0 473.3L693.1 470.5L695.2 467.7L697.4 464.9L699.5 462.0L701.7 459.1L703.9 455.9L706.1 452.6L708.3 449.3L710.4 446.0L712.5 442.9L714.6 439.8L716.7 436.8L718.8 433.9L721.0 431.0L723.1 428.1L725.2 425.2L727.4 422.3L729.5 419.5L731.6 416.6L733.7 413.8L735.9 411.0L738.0 408.3L740.1 405.5L742.2 402.9L744.3 400.3L746.4 397.7L748.5 395.2L750.6 392.8L752.7 390.4L754.8 388.1L756.9 385.9L759.0 383.8L761.0 381.8L763.1 379.9L765.1 378.1L767.2 376.4L769.2 374.8L771.2 373.3L773.2 371.9L775.1 370.7L777.1 369.5L779.1 368.5L781.0 367.5L783.0 366.7L784.9 365.9L786.9 365.2L788.8 364.7L790.8 364.2L792.7 363.8L794.6 363.4L796.6 363.2L798.5 363.0L800.5 362.9L802.4 362.9L804.4 362.9L806.3 363.1L808.3 363.3L810.3 363.5L812.3 363.8L814.3 364.2L816.3 364.7L818.3 365.2L820.3 365.7L822.3 366.4L824.3 367.0L826.3 367.8L828.3 368.6L830.4 369.5L832.4 370.4L834.4 371.4L836.5 372.4L838.5 373.5L840.6 374.7L842.6 375.9L844.7 377.1L846.7 378.5L848.8 379.9L850.9 381.3L852.9 382.8L855.0 384.4L857.1 386.0L859.3 387.6L861.4 389.2L863.5 390.9L865.6 392.6L867.8 394.3L869.9 396.0L872.1 397.6L874.3 399.3L876.5 400.9L878.7 402.5L880.9 404.1L883.1 405.6L885.3 407.1L887.6 408.4L889.8 409.8L892.1 411.0L894.4 412.2L896.8 413.2L899.1 414.2L901.4 415.0L903.7 415.7L906.0 416.3L908.2 416.9L910.5 417.4L912.6 417.9L914.8 418.4L917.0 418.9L919.3 419.3L921.5 419.7L923.8 420.0L926.2 420.2L928.5 420.4L930.9 420.4L933.4 420.3L935.8 420.1L938.2 419.7L940.6 419.2L943.0 418.6L945.3 417.9L947.5 417.1L949.8 416.3L952.0 415.4L954.2 414.5L956.4 413.6L958.5 412.7L960.7 411.8L962.8 410.9L965.0 410.0L967.1 409.1L969.2 408.1L971.4 407.2L973.5 406.3L975.7 405.4L977.8 404.5L979.9 403.6L982.0 402.8L984.2 401.9L986.3 401.0L988.4 400.1L990.5 399.3L992.7 398.4L994.8 397.6L996.9 396.8L999.0 396.0L1001.1 395.2L1003.2 394.4L1005.3 393.7L1007.4 393.0L1009.5 392.3L1011.6 391.6L1013.6 391.0L1015.7 390.4L1017.8 389.8L1019.8 389.3L1021.9 388.8L1023.9 388.4L1026.0 388.0L1028.0 387.6L1030.1 387.3L1032.1 387.0L1034.2 386.8L1036.2 386.5L1038.3 386.4L1040.3 386.2L1042.4 386.1L1044.4 386.1L1046.5 386.0L1048.6 386.0L1050.6 386.0L1052.7 386.1L1054.8 386.2L1056.8 386.3L1058.9 386.4L1061.0 386.6L1063.1 386.8L1065.1 387.0L1067.2 387.2L1069.3 387.5L1071.4 387.8L1073.5 388.1L1075.6 388.4L1077.7 388.8L1079.8 389.2L1081.9 389.6L1084.0 390.0L1086.1 390.4L1088.2 390.8L1090.3 391.3L1092.4 391.8L1094.5 392.3L1096.6 392.8L1098.7 393.3L1100.8 393.8L1102.9 394.4L1105.1 394.9L1107.2 395.5L1109.3 396.1L1111.4 396.6L1113.6 397.2L1115.7 397.8L1117.9 398.4L1120.1 399.0L1122.3 399.5L1124.6 400.0L1126.8 400.5L1129.1 400.9L1131.4 401.2L1133.7 401.4L1136.0 401.6L1138.3 401.7L1140.6 401.7L1142.9 401.6L1145.2 401.6L1147.4 401.4L1149.6 401.2L1151.9 401.0L1154.1 400.7L1156.3 400.4L1158.5 400.1L1160.7 399.8L1162.9 399.4L1165.1 399.0L1167.2 398.6L1169.4 398.2L1171.6 397.7L1173.8 397.3L1175.9 396.8L1178.1 396.4L1180.2 395.9L1182.4 395.4L1184.5 394.9L1186.7 394.4L1188.8 394.0L1190.9 393.5L1193.1 393.0L1195.2 392.5L1197.3 392.1L1199.4 391.7L1201.5 391.2L1203.6 390.9L1205.7 390.5L1207.7 390.1L1209.8 389.8L1211.9 389.6L1213.9 389.3L1215.9 389.1L1218.0 389.0L1220.0 388.9L1222.0 388.8L1224.0 388.8L1226.1 388.8L1228.1 388.9L1230.1 389.0L1232.2 389.2L1234.2 389.4L1236.3 389.7L1238.4 389.9L1240.4 390.2L1242.5 390.5L1244.6 390.9L1246.7 391.3L1248.8 391.6L1250.9 392.0L1253.1 392.4L1255.2 392.9L1257.3 393.3L1259.5 393.7L1261.6 394.1L1263.8 394.5L1266.0 394.9L1268.2 395.3L1270.3 395.6L1272.5 396.0L1274.7 396.3L1276.9 396.6L1279.2 396.9L1281.4 397.1L1283.6 397.3L1285.8 397.5L1288.0 397.6L1290.2 397.7L1292.4 397.8L1294.6 397.8L1296.8 397.8L1299.0 397.8L1301.2 397.8L1303.4 397.7L1305.6 397.6L1307.8 397.5L1310.0 397.4L1312.2 397.3L1314.3 397.1L1316.5 396.9L1318.7 396.8L1320.9 396.6L1323.0 396.3L1325.2 396.1L1327.3 395.9L1329.5 395.7L1331.7 395.4L1333.8 395.2L1336.0 394.9L1338.1 394.7L1340.2 394.4L1342.4 394.2L1344.5 393.9L1346.7 393.7L1348.8 393.4L1350.9 393.2L1353.0 392.9L1355.2 392.7L1357.3 392.5L1359.4 392.2L1361.5 392.0L1363.6 391.8L1365.7 391.7L1367.9 391.5L1370.0 391.3L1372.1 391.2L1374.2 391.1L1376.3 391.0L1378.4 390.8L1380.5 390.8L1382.6 390.7L1384.7 390.6L1386.9 390.6L1389.0 390.5L1391.1 390.5L1393.2 390.4L1395.3 390.4L1397.4 390.4L1399.5 390.4L1401.7 390.4L1403.8 390.5L1405.9 390.5L1408.0 390.5L1410.1 390.6L1412.3 390.7L1414.4 390.7L1416.5 390.8L1418.6 390.9L1420.7 391.0L1422.9 391.1L1425.0 391.2L1427.1 391.3L1429.2 391.4L1431.4 391.6L1433.5 391.7L1435.6 391.8L1437.7 392.0L1439.9 392.1L1442.0 392.3L1444.1 392.4L1446.2 392.6L1448.4 392.8L1450.5 393.0L1452.6 393.1L1454.8 393.3L1456.9 393.5L1459.0 393.7L1461.2 393.9L1463.3 394.1L1465.5 394.3L1467.6 394.5L1469.7 394.7L1471.9 394.9L1474.0 395.0L1476.2 395.2L1478.3 395.4L1480.5 395.6L1482.6 395.8L1484.8 396.0L1486.9 396.1L1489.1 396.3L1491.2 396.5L1493.4 396.6L1495.5 396.8L1497.7 396.9L1499.8 397.1L1502.0 397.2L1504.2 397.3L1506.3 397.4L1508.5 397.5L1510.6 397.6L1512.8 397.7L1515.0 397.8L1517.1 397.9L1519.3 397.9L1521.4 398.0L1523.6 398.0L1525.8 398.1L1527.9 398.1L1530.1 398.1L1532.2 398.1L1534.4 398.2L1536.5 398.2L1538.7 398.2L1540.8 398.2L1543.0 398.1L1545.1 398.1L1547.3 398.1L1549.4 398.1L1551.6 398.1L1553.7 398.0L1555.9 398.0L1558.0 397.9L1560.2 397.9L1562.3 397.8L1564.5 397.8L1566.6 397.7L1568.8 397.7L1570.9 397.6L1573.1 397.6L1575.2 397.5L1577.4 397.4L1579.5 397.4L1581.6 397.3L1583.8 397.2L1585.9 397.2L1588.1 397.1L1590.2 397.0L1592.4 396.9L1594.5 396.9L1596.6 396.8L1598.8 396.7L1600.9 396.7L1603.1 396.6L1605.2 396.5L1607.3 396.5L1609.5 396.4L1611.6 396.3L1613.7 396.2L1615.9 396.2L1618.0 396.1L1620.2 396.0L1622.3 396.0L1624.4 395.9L1626.6 395.9L1628.7 395.8L1630.9 395.7L1633.0 395.7L1635.1 395.6L1637.3 395.5L1639.4 395.5L1641.5 395.4L1643.7 395.4L1645.8 395.3L1648.0 395.3L1650.1 395.2L1652.2 395.2L1654.4 395.1L1656.5 395.1L1658.6 395.0L1660.8 395.0L1662.9 394.9L1665.1 394.9L1667.2 394.8L1669.3 394.8L1671.5 394.8L1673.6 394.7L1675.7 394.7L1677.9 394.7L1680.0 394.6L1682.1 394.6L1684.3 394.6L1686.4 394.6L1688.5 394.6L1690.7 394.5L1692.8 394.5L1694.9 394.5L1697.1 394.5L1699.2 394.5L1701.3 394.5L1703.5 394.5L1705.6 394.5L1707.7 394.5L1709.9 394.5L1712.0 394.5L1714.1 394.5L1716.3 394.5L1718.4 394.5L1720.5 394.6L1722.7 394.6L1724.8 394.6L1726.9 394.6L1729.1 394.7L1731.2 394.7L1733.3 394.7L1735.5 394.8L1737.6 394.8L1739.7 394.9L1741.9 394.9L1742.1 384.7L1740.0 384.7L1737.8 384.6L1735.7 384.6L1733.5 384.5L1731.4 384.5L1729.2 384.5L1727.1 384.4L1724.9 384.4L1722.8 384.4L1720.6 384.4L1718.5 384.3L1716.4 384.3L1714.2 384.3L1712.1 384.3L1709.9 384.3L1707.8 384.3L1705.6 384.3L1703.5 384.3L1701.3 384.3L1699.2 384.3L1697.0 384.3L1694.9 384.3L1692.7 384.3L1690.6 384.3L1688.4 384.4L1686.3 384.4L1684.2 384.4L1682.0 384.4L1679.9 384.4L1677.7 384.5L1675.6 384.5L1673.4 384.5L1671.3 384.6L1669.1 384.6L1667.0 384.7L1664.9 384.7L1662.7 384.7L1660.6 384.8L1658.4 384.8L1656.3 384.9L1654.1 384.9L1652.0 385.0L1649.8 385.0L1647.7 385.1L1645.6 385.1L1643.4 385.2L1641.3 385.2L1639.1 385.3L1637.0 385.4L1634.8 385.4L1632.7 385.5L1630.6 385.5L1628.4 385.6L1626.3 385.7L1624.1 385.7L1622.0 385.8L1619.9 385.9L1617.7 385.9L1615.6 386.0L1613.4 386.1L1611.3 386.1L1609.1 386.2L1607.0 386.3L1604.9 386.3L1602.7 386.4L1600.6 386.5L1598.4 386.5L1596.3 386.6L1594.2 386.7L1592.0 386.7L1589.9 386.8L1587.7 386.9L1585.6 387.0L1583.5 387.0L1581.3 387.1L1579.2 387.2L1577.0 387.2L1574.9 387.3L1572.8 387.4L1570.6 387.4L1568.5 387.5L1566.4 387.5L1564.2 387.6L1562.1 387.6L1560.0 387.7L1557.8 387.7L1555.7 387.8L1553.6 387.8L1551.4 387.9L1549.3 387.9L1547.2 387.9L1545.1 387.9L1542.9 387.9L1540.8 388.0L1538.7 388.0L1536.5 388.0L1534.4 388.0L1532.3 387.9L1530.2 387.9L1528.0 387.9L1525.9 387.9L1523.8 387.8L1521.7 387.8L1519.6 387.7L1517.4 387.7L1515.3 387.6L1513.2 387.5L1511.1 387.4L1509.0 387.4L1506.8 387.3L1504.7 387.1L1502.6 387.0L1500.5 386.9L1498.4 386.8L1496.2 386.6L1494.1 386.5L1492.0 386.3L1489.9 386.1L1487.7 386.0L1485.6 385.8L1483.5 385.6L1481.3 385.4L1479.2 385.3L1477.1 385.1L1474.9 384.9L1472.8 384.7L1470.7 384.5L1468.5 384.3L1466.4 384.1L1464.2 383.9L1462.1 383.7L1459.9 383.5L1457.8 383.3L1455.7 383.2L1453.5 383.0L1451.4 382.8L1449.2 382.6L1447.1 382.4L1444.9 382.3L1442.8 382.1L1440.6 382.0L1438.4 381.8L1436.3 381.7L1434.1 381.5L1432.0 381.4L1429.8 381.2L1427.7 381.1L1425.5 381.0L1423.4 380.9L1421.2 380.8L1419.0 380.7L1416.9 380.6L1414.7 380.5L1412.6 380.5L1410.4 380.4L1408.2 380.3L1406.1 380.3L1403.9 380.3L1401.8 380.2L1399.6 380.2L1397.4 380.2L1395.3 380.2L1393.1 380.2L1390.9 380.3L1388.8 380.3L1386.6 380.4L1384.4 380.4L1382.3 380.5L1380.1 380.6L1377.9 380.7L1375.8 380.8L1373.6 380.9L1371.4 381.0L1369.2 381.2L1367.1 381.3L1364.9 381.5L1362.7 381.7L1360.6 381.9L1358.4 382.1L1356.2 382.3L1354.1 382.5L1351.9 382.8L1349.8 383.0L1347.6 383.3L1345.5 383.5L1343.3 383.8L1341.2 384.0L1339.0 384.3L1336.9 384.5L1334.8 384.8L1332.6 385.0L1330.5 385.3L1328.4 385.5L1326.3 385.8L1324.1 386.0L1322.0 386.2L1319.9 386.4L1317.8 386.6L1315.7 386.8L1313.6 386.9L1311.5 387.1L1309.4 387.2L1307.3 387.3L1305.2 387.4L1303.1 387.5L1301.0 387.6L1298.9 387.6L1296.8 387.6L1294.8 387.6L1292.7 387.6L1290.6 387.5L1288.5 387.4L1286.5 387.3L1284.4 387.1L1282.3 387.0L1280.3 386.7L1278.2 386.5L1276.1 386.2L1274.1 385.9L1272.0 385.6L1269.9 385.2L1267.8 384.9L1265.7 384.5L1263.5 384.1L1261.4 383.7L1259.3 383.3L1257.1 382.8L1255.0 382.4L1252.8 382.0L1250.7 381.6L1248.5 381.2L1246.3 380.8L1244.1 380.5L1241.9 380.1L1239.7 379.8L1237.5 379.5L1235.3 379.3L1233.1 379.1L1230.9 378.9L1228.6 378.7L1226.4 378.6L1224.1 378.6L1221.8 378.6L1219.6 378.7L1217.3 378.8L1215.1 379.0L1212.8 379.2L1210.6 379.4L1208.4 379.7L1206.2 380.1L1204.0 380.4L1201.8 380.8L1199.6 381.2L1197.4 381.7L1195.2 382.1L1193.0 382.6L1190.9 383.0L1188.7 383.5L1186.6 384.0L1184.4 384.5L1182.3 385.0L1180.2 385.4L1178.0 385.9L1175.9 386.4L1173.8 386.9L1171.7 387.3L1169.5 387.7L1167.4 388.2L1165.3 388.6L1163.2 389.0L1161.1 389.3L1159.0 389.7L1157.0 390.0L1154.9 390.3L1152.8 390.6L1150.7 390.8L1148.7 391.1L1146.6 391.2L1144.6 391.4L1142.6 391.5L1140.6 391.5L1138.6 391.5L1136.6 391.4L1134.6 391.3L1132.7 391.1L1130.7 390.8L1128.7 390.4L1126.7 390.0L1124.6 389.6L1122.6 389.1L1120.5 388.5L1118.4 388.0L1116.3 387.4L1114.1 386.8L1112.0 386.2L1109.8 385.6L1107.7 385.1L1105.5 384.5L1103.3 383.9L1101.2 383.4L1099.0 382.9L1096.8 382.4L1094.7 381.8L1092.5 381.4L1090.3 380.9L1088.1 380.4L1086.0 380.0L1083.8 379.5L1081.6 379.1L1079.4 378.8L1077.2 378.4L1075.0 378.0L1072.8 377.7L1070.7 377.4L1068.5 377.1L1066.3 376.9L1064.1 376.6L1061.9 376.4L1059.7 376.3L1057.4 376.1L1055.2 376.0L1053.0 375.9L1050.8 375.8L1048.6 375.8L1046.4 375.8L1044.2 375.9L1041.9 375.9L1039.7 376.1L1037.5 376.2L1035.3 376.4L1033.0 376.6L1030.8 376.9L1028.6 377.2L1026.3 377.5L1024.1 377.9L1021.9 378.4L1019.6 378.9L1017.4 379.4L1015.2 379.9L1012.9 380.5L1010.7 381.2L1008.5 381.9L1006.3 382.6L1004.1 383.3L1001.9 384.1L999.8 384.8L997.6 385.6L995.4 386.4L993.2 387.3L991.1 388.1L988.9 389.0L986.8 389.8L984.6 390.7L982.4 391.6L980.3 392.4L978.1 393.3L976.0 394.2L973.8 395.1L971.7 396.0L969.5 396.9L967.4 397.8L965.3 398.8L963.1 399.7L961.0 400.6L958.8 401.5L956.7 402.4L954.6 403.3L952.4 404.2L950.3 405.1L948.2 405.9L946.2 406.7L944.1 407.5L942.1 408.2L940.2 408.8L938.2 409.3L936.3 409.7L934.5 410.0L932.7 410.2L930.8 410.2L928.9 410.2L927.0 410.1L925.1 409.9L923.1 409.6L921.1 409.3L919.0 408.9L916.9 408.4L914.8 408.0L912.7 407.5L910.7 407.0L908.6 406.5L906.6 405.9L904.7 405.3L902.7 404.6L900.8 403.8L898.8 402.9L896.8 402.0L894.8 400.9L892.8 399.7L890.8 398.4L888.7 397.1L886.7 395.7L884.6 394.2L882.5 392.7L880.4 391.2L878.3 389.6L876.2 387.9L874.1 386.3L872.0 384.6L869.8 382.9L867.7 381.2L865.5 379.5L863.3 377.9L861.2 376.2L859.0 374.6L856.8 373.0L854.6 371.5L852.3 370.0L850.1 368.5L847.9 367.2L845.7 365.8L843.4 364.6L841.2 363.4L839.0 362.2L836.7 361.1L834.5 360.1L832.2 359.2L830.0 358.3L827.7 357.4L825.4 356.7L823.2 355.9L820.9 355.3L818.6 354.7L816.3 354.2L814.0 353.8L811.7 353.4L809.4 353.1L807.1 352.9L804.8 352.8L802.5 352.7L800.2 352.7L797.8 352.8L795.5 353.0L793.1 353.3L790.8 353.7L788.5 354.2L786.1 354.8L783.8 355.5L781.4 356.3L779.1 357.2L776.8 358.2L774.5 359.4L772.1 360.6L769.8 361.9L767.5 363.4L765.2 365.0L763.0 366.7L760.7 368.5L758.4 370.4L756.2 372.4L754.0 374.5L751.8 376.6L749.6 378.9L747.4 381.2L745.2 383.6L743.0 386.1L740.8 388.6L738.6 391.2L736.4 393.8L734.3 396.5L732.1 399.2L729.9 402.0L727.8 404.8L725.6 407.6L723.5 410.5L721.3 413.4L719.2 416.3L717.0 419.2L714.9 422.1L712.7 425.0L710.6 427.9L708.4 430.9L706.2 434.0L704.1 437.2L701.9 440.4L699.7 443.8L697.6 447.0L695.5 450.2L693.4 453.1L691.4 455.9L689.2 458.7L687.1 461.5L685.0 464.3L682.8 467.2L680.7 470.0L678.6 472.8L676.4 475.5L674.3 478.2L672.2 480.8L670.2 483.3L668.1 485.7L666.0 487.9L664.0 490.0L662.0 492.0L660.0 493.7L658.0 495.4L656.0 497.0L654.0 498.4L651.9 499.9L649.8 501.3L647.7 502.6L645.6 504.0L643.6 505.2L641.6 506.4L639.6 507.5L637.6 508.4L635.7 509.3L633.8 510.0L632.0 510.6L630.1 511.1L628.3 511.4L626.4 511.7L624.6 511.8L622.7 511.9L620.9 511.8L619.1 511.6L617.2 511.3L615.4 510.9L613.5 510.3L611.6 509.7L609.7 508.9L607.8 508.0L605.9 507.0L603.9 505.9L602.0 504.7L600.0 503.3L598.0 501.8L596.0 500.2L594.0 498.4L592.0 496.6L589.9 494.6L587.9 492.4L585.8 490.2L583.8 487.8L581.7 485.3L579.6 482.7L577.6 479.9L575.5 477.0L573.4 474.0L571.3 470.9L569.2 467.7L567.1 464.3L565.0 460.8L562.9 457.2L560.8 453.5L558.7 449.7L556.6 445.7L554.4 441.7L552.3 437.6L550.2 433.4L548.1 429.2L545.9 424.8L543.8 420.5L541.7 416.1L539.5 411.6L537.4 407.2L535.2 402.7L533.1 398.2L531.0 393.7L528.8 389.2L526.7 384.8L524.5 380.3L522.4 375.9L520.2 371.5L518.1 367.2L515.9 362.9L513.8 358.7L511.6 354.5L509.5 350.4L507.3 346.4L505.2 342.5L503.0 338.5L500.9 334.6L498.8 330.5L496.7 326.3L494.6 321.9L492.5 317.2L490.4 312.2L488.3 307.0L486.1 301.6L484.0 296.3L481.8 291.3L479.5 286.6L477.2 282.5L474.9 279.0L472.6 276.0L470.4 273.1L468.2 270.5L466.1 267.9L463.9 265.3L461.7 262.8L459.6 260.3L457.4 257.8L455.2 255.5L452.9 253.2L450.7 250.9L448.4 248.8L446.2 246.9L443.8 245.0L441.5 243.3L439.1 241.8L436.7 240.5L434.2 239.3L431.7 238.4L429.1 237.6L426.5 237.1L423.9 236.9L421.2 236.9L418.5 237.2L415.9 237.7L413.3 238.6L410.7 239.7L408.2 241.1L405.7 242.7L403.2 244.6L400.8 246.8L398.5 249.2L396.2 251.8L393.9 254.7L391.6 257.9L389.4 261.3L387.1 264.9L384.9 268.8L382.7 273.0L380.5 277.4L378.3 282.1L376.2 287.0L374.0 292.1L371.8 297.6L369.6 303.2L367.5 309.1L365.3 315.3L363.2 321.7L361.0 328.3L358.8 335.2L356.7 342.3L354.5 349.6L352.4 357.2L350.2 365.0L348.1 373.0L345.9 381.3L343.8 389.8L341.6 398.5L339.5 407.4L337.3 416.6L335.2 426.0L333.0 435.5L330.9 445.3L328.8 455.3L326.6 465.5L324.5 475.9L322.3 486.5L320.2 497.2L318.0 508.2L315.9 519.3L313.8 530.7L311.6 542.2L309.5 553.9L307.3 565.7L305.2 577.8L303.0 590.0L300.9 602.3L298.8 614.8L296.6 627.5L294.5 640.3L292.3 653.3L290.2 666.4L288.0 679.7L285.9 693.1L283.8 706.7L281.6 720.3L279.5 734.1L277.3 748.1L275.2 762.1L273.1 776.3L270.9 790.6L268.8 805.1L266.6 819.6L264.5 834.2L262.4 849.0L260.2 863.8L258.1 878.8L255.9 893.8L253.8 908.9L251.7 924.2L249.5 939.5L247.4 954.9L245.2 970.3L243.1 985.9L240.9 1001.5Z" fill="#ff0000"/>
<path d="M251.0 1100.0L253.2 1085.8L255.3 1071.6L257.5 1057.2L259.6 1042.9L261.7 1028.4L263.9 1014.0L266.0 999.5L268.2 985.0L270.3 970.5L272.4 956.0L274.6 941.5L276.7 927.0L278.9 912.6L281.0 898.3L283.1 883.9L285.3 869.7L287.4 855.6L289.6 841.5L291.7 827.6L293.8 813.7L296.0 800.0L298.1 786.4L300.3 773.0L302.4 759.7L304.5 746.6L306.7 733.7L308.8 720.9L311.0 708.2L313.1 695.7L315.2 683.4L317.4 671.2L319.5 659.2L321.6 647.3L323.8 635.6L325.9 624.0L328.1 612.6L330.2 601.4L332.3 590.3L334.5 579.4L336.6 568.6L338.7 558.0L340.9 547.6L343.0 537.3L345.2 527.1L347.3 517.1L349.4 507.3L351.6 497.7L353.7 488.2L355.8 478.8L358.0 469.7L360.1 460.6L362.2 451.8L364.4 443.1L366.5 434.6L368.6 426.3L370.8 418.1L372.9 410.1L375.0 402.4L377.2 394.8L379.3 387.4L381.4 380.2L383.6 373.3L385.7 366.5L387.8 360.0L389.9 353.7L392.1 347.7L394.2 341.8L396.3 336.3L398.4 330.9L400.5 325.8L402.6 321.0L404.7 316.5L406.8 312.2L408.9 308.2L410.9 304.6L412.9 301.3L414.9 298.4L416.9 295.9L418.7 293.7L420.6 292.0L422.5 290.4L424.6 288.8L426.7 287.3L428.8 285.7L430.8 284.2L432.7 282.9L434.5 281.9L436.2 281.2L437.8 280.6L439.5 280.3L441.1 280.1L442.8 280.1L444.5 280.2L446.3 280.4L448.1 280.8L450.0 281.3L451.9 282.0L453.9 282.7L455.9 283.5L458.1 284.4L460.2 285.3L462.4 286.2L464.5 287.0L466.2 287.8L467.8 288.7L469.4 290.0L471.1 291.8L472.9 294.3L474.9 297.5L477.0 301.0L479.2 304.7L481.4 308.2L483.7 311.6L485.9 314.7L488.1 317.6L490.2 320.4L492.4 323.1L494.5 325.8L496.5 328.6L498.6 331.5L500.6 334.6L502.7 338.0L504.8 341.7L506.9 345.4L509.0 349.3L511.2 353.3L513.3 357.3L515.5 361.3L517.6 365.3L519.7 369.2L521.9 373.2L524.0 377.1L526.2 381.0L528.3 384.9L530.5 388.8L532.6 392.6L534.8 396.4L536.9 400.1L539.1 403.8L541.2 407.5L543.4 411.1L545.6 414.6L547.7 418.1L549.9 421.6L552.0 424.9L554.2 428.3L556.4 431.5L558.5 434.7L560.7 437.8L562.9 440.9L565.1 443.9L567.2 446.8L569.4 449.7L571.6 452.5L573.7 455.2L575.9 458.0L578.1 460.6L580.2 463.2L582.4 465.8L584.6 468.3L586.8 470.8L589.0 473.2L591.1 475.5L593.3 477.8L595.5 480.0L597.8 482.2L600.0 484.2L602.2 486.2L604.5 488.1L606.7 489.9L609.0 491.6L611.3 493.2L613.7 494.6L616.0 495.9L618.4 497.1L620.8 498.2L623.2 499.0L625.7 499.8L628.1 500.3L630.6 500.7L633.0 500.9L635.4 501.1L637.8 501.0L640.2 500.9L642.5 500.7L644.8 500.4L647.2 500.0L649.5 499.5L651.8 499.0L654.1 498.4L656.4 497.6L658.7 496.9L661.0 496.0L663.2 495.0L665.5 494.0L667.8 492.8L670.1 491.6L672.4 490.3L674.7 488.9L676.9 487.3L679.2 485.7L681.5 484.0L683.7 482.2L686.0 480.3L688.2 478.3L690.4 476.2L692.7 474.0L694.9 471.7L697.1 469.3L699.2 467.0L701.2 464.9L703.3 462.9L705.5 460.6L707.8 458.2L710.1 455.5L712.3 452.6L714.5 449.8L716.6 447.0L718.7 444.4L720.8 441.8L722.8 439.4L724.9 437.1L727.0 434.8L729.1 432.6L731.2 430.4L733.3 428.2L735.4 426.1L737.6 423.9L739.7 421.7L741.9 419.5L744.1 417.3L746.3 415.0L748.5 412.6L750.6 410.2L752.7 407.8L754.8 405.5L756.9 403.3L759.0 401.2L761.0 399.2L763.1 397.3L765.1 395.5L767.1 393.8L769.2 392.2L771.2 390.7L773.2 389.4L775.2 388.1L777.2 386.9L779.2 385.8L781.2 384.8L783.2 383.8L785.3 382.9L787.3 382.0L789.4 381.1L791.5 380.3L793.6 379.5L795.6 378.7L797.7 378.0L799.7 377.3L801.8 376.7L803.8 376.1L805.8 375.5L807.8 375.1L809.8 374.6L811.8 374.3L813.8 374.0L815.7 373.8L817.7 373.7L819.6 373.6L821.6 373.6L823.5 373.7L825.5 373.9L827.5 374.1L829.5 374.4L831.5 374.7L833.5 375.2L835.5 375.6L837.5 376.1L839.5 376.7L841.6 377.4L843.6 378.0L845.7 378.8L847.7 379.5L849.8 380.3L851.9 381.2L854.0 382.1L856.0 383.0L858.1 383.9L860.2 384.9L862.3 385.8L864.4 386.8L866.6 387.9L868.7 388.9L870.8 390.0L872.9 391.1L875.0 392.1L877.2 393.2L879.3 394.3L881.4 395.5L883.6 396.6L885.7 397.7L887.8 398.8L890.0 399.9L892.1 401.0L894.3 402.2L896.5 403.3L898.6 404.3L900.8 405.4L903.0 406.5L905.2 407.5L907.5 408.5L909.8 409.4L912.1 410.2L914.4 411.0L916.7 411.6L919.1 412.2L921.4 412.6L923.7 413.0L926.0 413.3L928.3 413.5L930.6 413.7L932.9 413.7L935.2 413.7L937.5 413.6L939.8 413.5L942.1 413.3L944.3 413.1L946.6 412.8L948.8 412.4L951.0 412.1L953.3 411.6L955.5 411.2L957.7 410.7L959.9 410.2L962.1 409.6L964.3 409.1L966.4 408.5L968.6 407.9L970.8 407.3L972.9 406.7L975.1 406.1L977.2 405.5L979.4 404.8L981.5 404.2L983.7 403.6L985.8 402.9L988.0 402.3L990.1 401.7L992.2 401.0L994.4 400.4L996.5 399.8L998.6 399.2L1000.7 398.6L1002.8 398.0L1004.9 397.5L1007.1 396.9L1009.2 396.4L1011.3 395.8L1013.4 395.3L1015.5 394.8L1017.6 394.4L1019.7 393.9L1021.8 393.5L1023.9 393.1L1026.0 392.7L1028.0 392.3L1030.1 392.0L1032.2 391.6L1034.3 391.3L1036.4 391.0L1038.5 390.7L1040.6 390.5L1042.7 390.2L1044.8 390.0L1046.9 389.9L1049.0 389.7L1051.0 389.5L1053.1 389.4L1055.2 389.3L1057.3 389.2L1059.4 389.2L1061.5 389.2L1063.5 389.2L1065.6 389.2L1067.7 389.2L1069.8 389.3L1071.9 389.4L1073.9 389.5L1076.0 389.6L1078.1 389.8L1080.2 390.0L1082.2 390.2L1084.3 390.5L1086.4 390.7L1088.5 391.1L1090.6 391.4L1092.6 391.7L1094.7 392.1L1096.9 392.5L1099.0 392.9L1101.1 393.3L1103.2 393.7L1105.4 394.2L1107.5 394.6L1109.7 395.0L1111.8 395.5L1114.0 395.9L1116.2 396.3L1118.3 396.7L1120.5 397.0L1122.7 397.4L1124.9 397.7L1127.1 398.0L1129.4 398.2L1131.6 398.4L1133.8 398.6L1136.0 398.8L1138.2 398.9L1140.4 399.0L1142.6 399.1L1144.8 399.1L1147.1 399.1L1149.3 399.1L1151.5 399.0L1153.7 398.9L1155.9 398.8L1158.1 398.7L1160.3 398.5L1162.5 398.3L1164.7 398.1L1166.9 397.8L1169.1 397.5L1171.3 397.3L1173.4 397.0L1175.6 396.6L1177.8 396.3L1179.9 396.0L1182.1 395.6L1184.2 395.3L1186.4 395.0L1188.5 394.6L1190.6 394.3L1192.7 394.0L1194.8 393.6L1197.0 393.3L1199.1 393.1L1201.1 392.8L1203.2 392.5L1205.3 392.3L1207.4 392.1L1209.5 391.9L1211.6 391.8L1213.7 391.6L1215.8 391.5L1217.9 391.4L1219.9 391.3L1222.0 391.3L1224.1 391.3L1226.2 391.2L1228.3 391.3L1230.4 391.3L1232.5 391.3L1234.6 391.4L1236.7 391.5L1238.8 391.6L1240.9 391.7L1243.0 391.9L1245.1 392.0L1247.2 392.2L1249.3 392.4L1251.4 392.6L1253.5 392.8L1255.6 393.0L1257.7 393.3L1259.9 393.5L1262.0 393.8L1264.1 394.0L1266.3 394.3L1268.4 394.6L1270.5 394.8L1272.7 395.1L1274.9 395.3L1277.0 395.6L1279.2 395.8L1281.4 396.0L1283.6 396.2L1285.7 396.4L1287.9 396.6L1290.1 396.7L1292.3 396.8L1294.5 396.9L1296.8 396.9L1299.0 397.0L1301.2 396.9L1303.4 396.9L1305.6 396.8L1307.8 396.8L1310.0 396.6L1312.1 396.5L1314.3 396.4L1316.5 396.2L1318.6 396.1L1320.8 395.9L1322.9 395.7L1325.1 395.6L1327.2 395.4L1329.4 395.2L1331.5 395.1L1333.6 394.9L1335.8 394.7L1337.9 394.5L1340.1 394.3L1342.2 394.2L1344.3 394.0L1346.5 393.8L1348.6 393.6L1350.8 393.5L1352.9 393.3L1355.0 393.1L1357.2 392.9L1359.3 392.8L1361.4 392.6L1363.6 392.4L1365.7 392.3L1367.8 392.1L1370.0 392.0L1372.1 391.8L1374.2 391.7L1376.3 391.6L1378.4 391.5L1380.6 391.3L1382.7 391.3L1384.8 391.2L1386.9 391.1L1389.0 391.0L1391.1 391.0L1393.2 391.0L1395.3 391.0L1397.4 391.0L1399.5 391.0L1401.6 391.0L1403.7 391.0L1405.9 391.1L1408.0 391.2L1410.1 391.2L1412.2 391.3L1414.3 391.4L1416.4 391.5L1418.6 391.6L1420.7 391.7L1422.8 391.8L1424.9 392.0L1427.1 392.1L1429.2 392.2L1431.3 392.4L1433.5 392.5L1435.6 392.6L1437.8 392.8L1439.9 392.9L1442.0 393.1L1444.2 393.2L1446.3 393.3L1448.5 393.5L1450.6 393.6L1452.8 393.7L1454.9 393.8L1457.1 394.0L1459.2 394.1L1461.4 394.2L1463.5 394.3L1465.7 394.4L1467.8 394.5L1470.0 394.6L1472.1 394.7L1474.3 394.8L1476.4 394.9L1478.6 395.0L1480.7 395.1L1482.9 395.1L1485.0 395.2L1487.2 395.3L1489.3 395.3L1491.5 395.4L1493.6 395.4L1495.8 395.5L1497.9 395.6L1500.1 395.6L1502.2 395.6L1504.3 395.7L1506.5 395.7L1508.6 395.7L1510.8 395.8L1512.9 395.8L1515.1 395.8L1517.2 395.9L1519.4 395.9L1521.5 395.9L1523.7 395.9L1525.8 395.9L1528.0 395.9L1530.1 395.9L1532.3 395.9L1534.4 395.9L1536.5 395.9L1538.7 395.9L1540.8 395.9L1543.0 395.9L1545.1 395.9L1547.3 395.9L1549.4 395.9L1551.6 395.9L1553.7 395.8L1555.9 395.8L1558.0 395.8L1560.1 395.8L1562.3 395.8L1564.4 395.7L1566.6 395.7L1568.7 395.7L1570.9 395.6L1573.0 395.6L1575.1 395.6L1577.3 395.5L1579.4 395.5L1581.6 395.5L1583.7 395.4L1585.9 395.4L1588.0 395.4L1590.1 395.3L1592.3 395.3L1594.4 395.3L1596.6 395.2L1598.7 395.2L1600.8 395.1L1603.0 395.1L1605.1 395.1L1607.3 395.0L1609.4 395.0L1611.5 394.9L1613.7 394.9L1615.8 394.9L1618.0 394.8L1620.1 394.8L1622.2 394.7L1624.4 394.7L1626.5 394.7L1628.7 394.6L1630.8 394.6L1632.9 394.6L1635.1 394.5L1637.2 394.5L1639.4 394.4L1641.5 394.4L1643.6 394.4L1645.8 394.4L1647.9 394.3L1650.0 394.3L1652.2 394.3L1654.3 394.2L1656.4 394.2L1658.6 394.2L1660.7 394.2L1662.9 394.1L1665.0 394.1L1667.1 394.1L1669.3 394.1L1671.4 394.1L1673.5 394.1L1675.7 394.1L1677.8 394.1L1679.9 394.0L1682.1 394.0L1684.2 394.0L1686.3 394.0L1688.5 394.0L1690.6 394.1L1692.8 394.1L1694.9 394.1L1697.0 394.1L1699.2 394.1L1701.3 394.1L1703.4 394.1L1705.6 394.2L1707.7 394.2L1709.8 394.2L1712.0 394.3L1714.1 394.3L1716.2 394.3L1718.4 394.4L1720.5 394.4L1722.6 394.5L1724.7 394.5L1726.9 394.6L1729.0 394.6L1731.1 394.7L1733.3 394.8L1735.4 394.9L1737.5 394.9L1739.7 395.0L1741.8 395.1L1742.2 384.9L1740.1 384.8L1737.9 384.7L1735.8 384.7L1733.6 384.6L1731.5 384.5L1729.3 384.5L1727.2 384.4L1725.0 384.3L1722.9 384.3L1720.7 384.2L1718.6 384.2L1716.4 384.1L1714.3 384.1L1712.1 384.1L1710.0 384.0L1707.8 384.0L1705.7 384.0L1703.5 383.9L1701.4 383.9L1699.2 383.9L1697.1 383.9L1694.9 383.9L1692.8 383.9L1690.7 383.9L1688.5 383.8L1686.4 383.8L1684.2 383.8L1682.1 383.8L1679.9 383.8L1677.8 383.9L1675.6 383.9L1673.5 383.9L1671.3 383.9L1669.2 383.9L1667.1 383.9L1664.9 383.9L1662.8 383.9L1660.6 384.0L1658.5 384.0L1656.3 384.0L1654.2 384.0L1652.0 384.1L1649.9 384.1L1647.8 384.1L1645.6 384.2L1643.5 384.2L1641.3 384.2L1639.2 384.3L1637.0 384.3L1634.9 384.3L1632.8 384.4L1630.6 384.4L1628.5 384.4L1626.3 384.5L1624.2 384.5L1622.1 384.5L1619.9 384.6L1617.8 384.6L1615.6 384.7L1613.5 384.7L1611.4 384.7L1609.2 384.8L1607.1 384.8L1604.9 384.9L1602.8 384.9L1600.7 384.9L1598.5 385.0L1596.4 385.0L1594.2 385.1L1592.1 385.1L1590.0 385.1L1587.8 385.2L1585.7 385.2L1583.5 385.2L1581.4 385.3L1579.3 385.3L1577.1 385.4L1575.0 385.4L1572.9 385.4L1570.7 385.4L1568.6 385.5L1566.4 385.5L1564.3 385.5L1562.2 385.6L1560.0 385.6L1557.9 385.6L1555.8 385.6L1553.6 385.6L1551.5 385.7L1549.3 385.7L1547.2 385.7L1545.1 385.7L1542.9 385.7L1540.8 385.7L1538.7 385.7L1536.5 385.7L1534.4 385.7L1532.3 385.7L1530.1 385.7L1528.0 385.7L1525.9 385.7L1523.7 385.7L1521.6 385.7L1519.5 385.7L1517.3 385.7L1515.2 385.6L1513.1 385.6L1510.9 385.6L1508.8 385.6L1506.7 385.5L1504.5 385.5L1502.4 385.4L1500.3 385.4L1498.1 385.4L1496.0 385.3L1493.9 385.3L1491.7 385.2L1489.6 385.1L1487.5 385.1L1485.3 385.0L1483.2 384.9L1481.1 384.9L1478.9 384.8L1476.8 384.7L1474.7 384.6L1472.6 384.5L1470.4 384.4L1468.3 384.3L1466.2 384.2L1464.0 384.1L1461.9 384.0L1459.8 383.9L1457.6 383.8L1455.5 383.7L1453.4 383.5L1451.2 383.4L1449.1 383.3L1447.0 383.1L1444.8 383.0L1442.7 382.9L1440.6 382.7L1438.4 382.6L1436.3 382.5L1434.1 382.3L1432.0 382.2L1429.8 382.0L1427.7 381.9L1425.6 381.8L1423.4 381.7L1421.2 381.5L1419.1 381.4L1416.9 381.3L1414.8 381.2L1412.6 381.1L1410.5 381.0L1408.3 381.0L1406.1 380.9L1404.0 380.8L1401.8 380.8L1399.6 380.8L1397.4 380.8L1395.3 380.8L1393.1 380.8L1390.9 380.8L1388.7 380.8L1386.6 380.9L1384.4 381.0L1382.2 381.1L1380.1 381.2L1377.9 381.3L1375.7 381.4L1373.6 381.5L1371.4 381.7L1369.3 381.8L1367.1 382.0L1365.0 382.1L1362.8 382.3L1360.7 382.4L1358.5 382.6L1356.4 382.8L1354.2 382.9L1352.1 383.1L1349.9 383.3L1347.8 383.5L1345.6 383.6L1343.5 383.8L1341.4 384.0L1339.2 384.2L1337.1 384.4L1334.9 384.5L1332.8 384.7L1330.7 384.9L1328.5 385.1L1326.4 385.2L1324.3 385.4L1322.1 385.6L1320.0 385.7L1317.9 385.9L1315.7 386.1L1313.6 386.2L1311.5 386.3L1309.4 386.5L1307.3 386.6L1305.2 386.6L1303.1 386.7L1301.1 386.8L1299.0 386.8L1296.9 386.7L1294.9 386.7L1292.8 386.6L1290.7 386.5L1288.6 386.4L1286.5 386.2L1284.4 386.1L1282.3 385.9L1280.2 385.7L1278.1 385.4L1276.0 385.2L1273.9 384.9L1271.8 384.7L1269.6 384.4L1267.5 384.2L1265.4 383.9L1263.2 383.6L1261.1 383.4L1258.9 383.1L1256.7 382.9L1254.6 382.7L1252.4 382.4L1250.2 382.2L1248.1 382.0L1245.9 381.8L1243.7 381.7L1241.5 381.5L1239.3 381.4L1237.1 381.3L1235.0 381.2L1232.8 381.1L1230.6 381.1L1228.4 381.1L1226.2 381.0L1224.0 381.1L1221.8 381.1L1219.6 381.2L1217.4 381.2L1215.3 381.3L1213.1 381.5L1210.9 381.6L1208.7 381.8L1206.5 382.0L1204.3 382.2L1202.1 382.4L1199.9 382.7L1197.7 382.9L1195.5 383.2L1193.4 383.5L1191.2 383.9L1189.0 384.2L1186.9 384.5L1184.7 384.9L1182.6 385.2L1180.5 385.6L1178.3 385.9L1176.2 386.2L1174.1 386.6L1172.0 386.9L1169.9 387.2L1167.8 387.4L1165.7 387.7L1163.6 387.9L1161.5 388.1L1159.4 388.3L1157.4 388.5L1155.3 388.6L1153.2 388.7L1151.1 388.8L1149.1 388.9L1147.0 388.9L1144.9 388.9L1142.9 388.9L1140.8 388.8L1138.7 388.7L1136.6 388.6L1134.6 388.5L1132.5 388.3L1130.4 388.1L1128.4 387.8L1126.3 387.6L1124.2 387.3L1122.2 387.0L1120.1 386.6L1118.0 386.2L1115.9 385.8L1113.7 385.4L1111.6 385.0L1109.5 384.6L1107.4 384.2L1105.2 383.7L1103.1 383.3L1100.9 382.9L1098.7 382.5L1096.6 382.1L1094.4 381.7L1092.2 381.3L1090.0 381.0L1087.8 380.6L1085.6 380.4L1083.4 380.1L1081.2 379.9L1079.0 379.7L1076.8 379.5L1074.6 379.3L1072.4 379.2L1070.2 379.1L1068.0 379.0L1065.8 379.0L1063.6 379.0L1061.4 379.0L1059.2 379.0L1057.0 379.0L1054.8 379.1L1052.6 379.2L1050.4 379.4L1048.2 379.5L1046.0 379.7L1043.8 379.9L1041.6 380.1L1039.4 380.3L1037.2 380.6L1035.0 380.9L1032.9 381.2L1030.7 381.5L1028.5 381.9L1026.3 382.3L1024.1 382.7L1021.9 383.1L1019.7 383.5L1017.6 383.9L1015.4 384.4L1013.2 384.9L1011.0 385.4L1008.8 385.9L1006.7 386.5L1004.5 387.0L1002.3 387.6L1000.1 388.2L998.0 388.8L995.8 389.4L993.7 390.0L991.5 390.6L989.4 391.3L987.2 391.9L985.1 392.5L982.9 393.2L980.8 393.8L978.6 394.4L976.5 395.0L974.4 395.7L972.3 396.3L970.1 396.9L968.0 397.5L965.9 398.1L963.8 398.7L961.7 399.2L959.6 399.7L957.5 400.3L955.4 400.7L953.3 401.2L951.3 401.6L949.2 402.0L947.2 402.4L945.1 402.7L943.1 402.9L941.1 403.2L939.1 403.3L937.1 403.4L935.1 403.5L933.1 403.5L931.1 403.5L929.1 403.4L927.1 403.2L925.2 402.9L923.2 402.6L921.3 402.2L919.3 401.8L917.3 401.2L915.4 400.6L913.4 399.9L911.4 399.1L909.4 398.2L907.3 397.2L905.3 396.2L903.2 395.2L901.1 394.1L898.9 393.1L896.8 392.0L894.7 390.9L892.6 389.8L890.4 388.7L888.3 387.5L886.1 386.4L884.0 385.3L881.8 384.2L879.7 383.1L877.5 382.0L875.4 380.9L873.2 379.8L871.0 378.7L868.9 377.7L866.7 376.6L864.5 375.6L862.3 374.6L860.2 373.6L858.0 372.7L855.8 371.8L853.6 370.9L851.4 370.0L849.1 369.2L846.9 368.4L844.7 367.6L842.4 367.0L840.2 366.3L837.9 365.7L835.6 365.2L833.4 364.7L831.1 364.3L828.8 364.0L826.5 363.7L824.2 363.6L821.8 363.5L819.5 363.4L817.2 363.5L814.9 363.7L812.5 363.9L810.2 364.2L807.9 364.6L805.6 365.1L803.4 365.6L801.1 366.2L798.8 366.9L796.6 367.6L794.4 368.3L792.2 369.1L789.9 369.9L787.7 370.8L785.5 371.7L783.3 372.6L781.1 373.5L778.9 374.6L776.6 375.6L774.4 376.8L772.1 378.1L769.8 379.4L767.5 380.8L765.3 382.4L763.0 384.1L760.7 385.9L758.5 387.8L756.2 389.7L754.0 391.8L751.8 394.0L749.6 396.2L747.4 398.5L745.2 400.9L743.0 403.4L740.9 405.7L738.8 408.0L736.7 410.2L734.6 412.4L732.5 414.6L730.3 416.7L728.2 418.9L726.1 421.1L723.9 423.3L721.7 425.5L719.5 427.8L717.3 430.2L715.1 432.7L712.9 435.3L710.7 438.0L708.5 440.8L706.4 443.6L704.2 446.4L702.2 449.0L700.2 451.4L698.2 453.6L696.2 455.6L694.0 457.7L691.7 460.0L689.5 462.4L687.4 464.7L685.4 466.8L683.3 468.9L681.3 470.8L679.2 472.6L677.2 474.4L675.2 476.0L673.2 477.5L671.1 478.9L669.1 480.3L667.1 481.5L665.1 482.7L663.1 483.8L661.1 484.8L659.1 485.7L657.2 486.5L655.2 487.3L653.2 487.9L651.2 488.6L649.2 489.1L647.3 489.6L645.3 490.0L643.3 490.3L641.4 490.6L639.4 490.8L637.5 490.9L635.6 490.9L633.8 490.8L631.9 490.6L630.1 490.3L628.2 489.9L626.4 489.3L624.6 488.7L622.7 487.9L620.8 486.9L618.9 485.8L616.9 484.6L614.9 483.3L612.9 481.8L610.9 480.2L608.9 478.5L606.8 476.7L604.8 474.8L602.7 472.8L600.6 470.7L598.6 468.5L596.5 466.3L594.4 464.0L592.3 461.6L590.2 459.1L588.1 456.7L585.9 454.1L583.8 451.5L581.7 448.9L579.6 446.2L577.5 443.5L575.4 440.7L573.3 437.8L571.2 434.9L569.1 432.0L567.0 428.9L564.8 425.8L562.7 422.6L560.6 419.4L558.5 416.1L556.4 412.7L554.3 409.3L552.1 405.8L550.0 402.2L547.9 398.6L545.8 395.0L543.6 391.3L541.5 387.6L539.4 383.8L537.2 380.0L535.1 376.1L533.0 372.2L530.8 368.3L528.7 364.4L526.6 360.4L524.4 356.5L522.3 352.5L520.2 348.5L518.0 344.5L515.9 340.5L513.7 336.6L511.5 332.8L509.3 329.2L507.1 325.8L504.8 322.6L502.6 319.6L500.4 316.8L498.3 314.1L496.2 311.4L494.1 308.6L492.0 305.8L490.0 302.7L487.9 299.4L485.8 295.8L483.6 292.1L481.4 288.6L478.9 285.3L476.3 282.5L473.6 280.3L470.9 278.7L468.4 277.6L466.2 276.7L464.1 275.9L462.0 275.0L459.8 274.1L457.6 273.2L455.3 272.3L452.9 271.6L450.5 270.9L448.1 270.4L445.6 270.0L443.0 269.9L440.4 269.9L437.8 270.2L435.1 270.8L432.5 271.7L429.9 272.8L427.4 274.3L425.0 275.8L422.8 277.5L420.6 279.1L418.4 280.7L416.2 282.4L413.8 284.4L411.4 286.7L409.0 289.4L406.7 292.4L404.4 295.7L402.1 299.4L399.9 303.4L397.7 307.6L395.5 312.1L393.3 316.9L391.1 321.9L388.9 327.1L386.8 332.6L384.6 338.3L382.4 344.2L380.3 350.4L378.1 356.8L376.0 363.4L373.8 370.3L371.7 377.3L369.5 384.6L367.4 392.0L365.2 399.6L363.1 407.5L360.9 415.5L358.8 423.7L356.6 432.1L354.5 440.7L352.3 449.4L350.2 458.3L348.0 467.3L345.9 476.5L343.8 485.9L341.6 495.5L339.5 505.1L337.3 515.0L335.2 525.0L333.0 535.2L330.9 545.5L328.8 556.0L326.6 566.6L324.5 577.4L322.3 588.4L320.2 599.5L318.0 610.7L315.9 622.2L313.8 633.8L311.6 645.5L309.5 657.4L307.3 669.4L305.2 681.6L303.0 694.0L300.9 706.5L298.8 719.2L296.6 732.0L294.5 745.0L292.3 758.1L290.2 771.4L288.0 784.8L285.9 798.4L283.8 812.2L281.6 826.0L279.5 840.0L277.3 854.0L275.2 868.2L273.1 882.4L270.9 896.7L268.8 911.1L266.6 925.5L264.5 940.0L262.4 954.5L260.2 969.0L258.1 983.5L255.9 998.0L253.8 1012.5L251.7 1026.9L249.5 1041.4L247.4 1055.7L245.2 1070.0L243.1 1084.3L241.0 1098.4Z" fill="#00ff00"/>
<path d="M251.0 1193.3L253.2 1179.7L255.3 1166.0L257.5 1152.3L259.6 1138.6L261.7 1124.8L263.9 1111.1L266.0 1097.3L268.2 1083.5L270.3 1069.8L272.4 1056.0L274.6 1042.3L276.7 1028.6L278.9 1014.9L281.0 1001.2L283.1 987.5L285.3 973.9L287.4 960.3L289.6 946.7L291.7 933.2L293.8 919.7L296.0 906.3L298.1 893.0L300.3 879.7L302.4 866.4L304.5 853.3L306.7 840.2L308.8 827.1L311.0 814.2L313.1 801.3L315.2 788.6L317.4 775.9L319.5 763.3L321.7 750.8L323.8 738.5L325.9 726.2L328.1 714.1L330.2 702.0L332.3 690.1L334.5 678.3L336.6 666.6L338.8 655.1L340.9 643.7L343.0 632.4L345.2 621.2L347.3 610.3L349.5 599.4L351.6 588.7L353.7 578.2L355.9 567.8L358.0 557.6L360.1 547.5L362.3 537.6L364.4 527.9L366.5 518.4L368.7 509.0L370.8 499.8L373.0 490.8L375.1 482.0L377.2 473.4L379.4 465.0L381.5 456.8L383.6 448.8L385.7 441.0L387.9 433.4L390.0 426.0L392.1 418.8L394.3 411.8L396.4 405.0L398.5 398.4L400.6 392.0L402.8 385.8L404.9 379.8L407.0 374.0L409.1 368.4L411.2 363.1L413.4 357.9L415.5 352.9L417.6 348.1L419.7 343.6L421.8 339.2L423.9 335.1L426.0 331.1L428.1 327.4L430.1 323.8L432.2 320.5L434.3 317.3L436.3 314.4L438.4 311.7L440.4 309.2L442.4 306.9L444.4 304.8L446.3 302.9L448.3 301.2L450.2 299.7L452.1 298.4L453.9 297.3L455.8 296.4L457.6 295.6L459.3 295.0L461.1 294.6L462.9 294.3L464.6 294.1L466.4 294.0L468.1 294.1L469.9 294.4L471.7 294.7L473.5 295.2L475.4 295.8L477.2 296.6L479.1 297.5L481.1 298.5L483.0 299.7L485.0 301.0L486.9 302.4L488.9 303.9L490.9 305.6L493.0 307.4L495.0 309.3L497.1 311.3L499.1 313.4L501.2 315.7L503.3 318.0L505.3 320.4L507.4 323.0L509.5 325.6L511.6 328.3L513.7 331.1L515.8 333.9L517.9 336.8L520.1 339.8L522.2 342.8L524.3 345.9L526.4 349.0L528.5 352.2L530.7 355.4L532.8 358.6L534.9 361.9L537.1 365.2L539.2 368.5L541.3 371.8L543.5 375.2L545.6 378.5L547.8 381.8L549.9 385.1L552.1 388.4L554.2 391.7L556.4 395.0L558.5 398.3L560.7 401.5L562.8 404.7L565.0 407.8L567.1 411.0L569.3 414.0L571.4 417.1L573.6 420.1L575.8 423.1L577.9 426.0L580.1 428.9L582.2 431.8L584.4 434.6L586.6 437.3L588.8 440.0L590.9 442.6L593.1 445.2L595.3 447.7L597.5 450.2L599.7 452.6L601.9 455.0L604.1 457.2L606.3 459.4L608.5 461.6L610.7 463.6L612.9 465.6L615.1 467.6L617.3 469.4L619.6 471.2L621.8 472.8L624.1 474.4L626.3 475.9L628.6 477.4L630.9 478.7L633.2 479.9L635.5 481.1L637.8 482.1L640.1 483.0L642.5 483.8L644.8 484.6L647.2 485.2L649.6 485.7L651.9 486.0L654.3 486.3L656.7 486.5L659.0 486.5L661.4 486.5L663.8 486.3L666.1 486.1L668.5 485.7L670.8 485.3L673.1 484.8L675.4 484.2L677.7 483.5L680.0 482.7L682.3 481.9L684.6 480.9L686.9 479.9L689.1 478.9L691.4 477.7L693.6 476.5L695.9 475.2L698.1 473.9L700.3 472.5L702.5 471.1L704.7 469.6L706.9 468.1L709.1 466.5L711.3 464.9L713.5 463.2L715.7 461.6L717.9 459.8L720.1 458.1L722.2 456.3L724.4 454.5L726.6 452.6L728.7 450.7L730.9 448.9L733.1 447.0L735.2 445.0L737.4 443.1L739.5 441.2L741.7 439.2L743.8 437.3L746.0 435.3L748.1 433.4L750.2 431.4L752.4 429.5L754.5 427.6L756.6 425.6L758.8 423.7L760.9 421.8L763.0 420.0L765.1 418.1L767.2 416.3L769.4 414.5L771.5 412.7L773.6 411.0L775.7 409.3L777.8 407.6L779.9 406.0L782.0 404.4L784.1 402.8L786.2 401.3L788.3 399.8L790.3 398.4L792.4 397.0L794.5 395.6L796.6 394.3L798.6 393.1L800.7 391.9L802.7 390.7L804.8 389.7L806.8 388.6L808.9 387.7L810.9 386.8L812.9 385.9L815.0 385.1L817.0 384.4L819.0 383.7L821.0 383.1L823.0 382.5L825.0 382.0L827.0 381.6L829.0 381.2L831.0 380.9L833.0 380.6L835.0 380.4L837.0 380.3L839.0 380.2L841.0 380.1L843.0 380.1L845.0 380.2L847.0 380.3L849.0 380.5L851.0 380.7L853.0 381.0L855.0 381.4L857.0 381.8L859.1 382.3L861.1 382.8L863.1 383.3L865.2 383.9L867.3 384.6L869.3 385.2L871.4 385.9L873.5 386.7L875.6 387.4L877.7 388.2L879.8 389.0L881.9 389.8L884.1 390.7L886.2 391.5L888.3 392.4L890.5 393.2L892.6 394.0L894.8 394.9L897.0 395.7L899.1 396.5L901.3 397.3L903.5 398.1L905.7 398.8L907.8 399.6L910.0 400.3L912.2 401.0L914.4 401.7L916.6 402.3L918.8 402.9L921.0 403.5L923.2 404.1L925.4 404.6L927.6 405.1L929.9 405.6L932.1 406.0L934.3 406.4L936.5 406.8L938.8 407.1L941.0 407.3L943.3 407.6L945.5 407.7L947.7 407.9L950.0 408.0L952.2 408.0L954.4 408.0L956.6 408.0L958.8 408.0L961.1 407.9L963.3 407.8L965.5 407.6L967.7 407.4L969.9 407.2L972.1 407.0L974.3 406.8L976.5 406.5L978.7 406.2L980.8 405.9L983.0 405.5L985.2 405.2L987.4 404.8L989.6 404.4L991.7 404.0L993.9 403.6L996.1 403.2L998.2 402.8L1000.4 402.3L1002.5 401.9L1004.7 401.4L1006.8 401.0L1009.0 400.5L1011.1 400.0L1013.3 399.6L1015.4 399.1L1017.6 398.6L1019.7 398.2L1021.8 397.7L1024.0 397.3L1026.1 396.8L1028.2 396.4L1030.3 395.9L1032.4 395.5L1034.6 395.1L1036.7 394.7L1038.8 394.3L1040.9 393.9L1043.0 393.5L1045.1 393.2L1047.2 392.9L1049.3 392.6L1051.4 392.3L1053.5 392.0L1055.6 391.7L1057.7 391.5L1059.8 391.3L1061.8 391.1L1063.9 391.0L1066.0 390.8L1068.1 390.7L1070.1 390.7L1072.2 390.6L1074.2 390.6L1076.3 390.6L1078.4 390.7L1080.5 390.7L1082.5 390.9L1084.6 391.0L1086.7 391.1L1088.8 391.3L1090.9 391.5L1093.0 391.7L1095.1 391.9L1097.2 392.2L1099.3 392.4L1101.4 392.7L1103.6 393.0L1105.7 393.3L1107.8 393.5L1110.0 393.8L1112.1 394.1L1114.3 394.4L1116.4 394.7L1118.6 395.0L1120.7 395.2L1122.9 395.5L1125.1 395.7L1127.2 396.0L1129.4 396.2L1131.6 396.4L1133.8 396.6L1136.0 396.7L1138.2 396.9L1140.4 397.0L1142.6 397.1L1144.8 397.2L1146.9 397.2L1149.1 397.2L1151.3 397.2L1153.5 397.2L1155.7 397.2L1157.8 397.1L1160.0 397.1L1162.2 397.0L1164.4 396.9L1166.5 396.8L1168.7 396.7L1170.9 396.6L1173.0 396.4L1175.2 396.3L1177.4 396.2L1179.5 396.0L1181.7 395.8L1183.8 395.7L1186.0 395.5L1188.1 395.3L1190.2 395.1L1192.4 395.0L1194.5 394.8L1196.7 394.6L1198.8 394.4L1200.9 394.3L1203.1 394.1L1205.2 393.9L1207.3 393.8L1209.4 393.7L1211.5 393.5L1213.7 393.4L1215.8 393.3L1217.9 393.2L1220.0 393.1L1222.1 393.0L1224.2 393.0L1226.3 392.9L1228.4 392.9L1230.5 392.9L1232.6 392.9L1234.7 392.9L1236.8 392.9L1239.0 393.0L1241.1 393.0L1243.2 393.1L1245.3 393.1L1247.4 393.2L1249.6 393.3L1251.7 393.4L1253.8 393.5L1256.0 393.5L1258.1 393.6L1260.2 393.7L1262.4 393.8L1264.5 393.9L1266.6 394.0L1268.8 394.1L1270.9 394.2L1273.1 394.3L1275.2 394.4L1277.4 394.5L1279.5 394.6L1281.7 394.7L1283.8 394.7L1286.0 394.8L1288.2 394.9L1290.3 394.9L1292.5 394.9L1294.7 395.0L1296.8 395.0L1299.0 395.0L1301.1 395.0L1303.3 395.0L1305.5 394.9L1307.6 394.9L1309.8 394.9L1312.0 394.8L1314.1 394.7L1316.3 394.7L1318.4 394.6L1320.6 394.5L1322.7 394.4L1324.9 394.4L1327.0 394.3L1329.2 394.2L1331.3 394.1L1333.5 394.0L1335.6 393.9L1337.7 393.8L1339.9 393.7L1342.0 393.6L1344.2 393.5L1346.3 393.4L1348.4 393.3L1350.6 393.2L1352.7 393.1L1354.8 393.0L1357.0 392.9L1359.1 392.8L1361.2 392.7L1363.4 392.6L1365.5 392.6L1367.6 392.5L1369.7 392.5L1371.9 392.4L1374.0 392.4L1376.1 392.3L1378.2 392.3L1380.3 392.3L1382.4 392.3L1384.6 392.3L1386.7 392.3L1388.8 392.3L1390.9 392.4L1393.1 392.4L1395.2 392.4L1397.3 392.5L1399.4 392.5L1401.6 392.6L1403.7 392.6L1405.8 392.7L1408.0 392.8L1410.1 392.8L1412.2 392.9L1414.4 393.0L1416.5 393.1L1418.6 393.2L1420.8 393.2L1422.9 393.3L1425.1 393.4L1427.2 393.5L1429.3 393.6L1431.5 393.6L1433.6 393.7L1435.8 393.8L1437.9 393.9L1440.1 394.0L1442.2 394.0L1444.4 394.1L1446.5 394.2L1448.6 394.2L1450.8 394.3L1452.9 394.3L1455.1 394.4L1457.2 394.4L1459.4 394.5L1461.5 394.5L1463.7 394.6L1465.8 394.6L1468.0 394.7L1470.1 394.7L1472.3 394.7L1474.4 394.8L1476.6 394.8L1478.7 394.8L1480.8 394.8L1483.0 394.9L1485.1 394.9L1487.3 394.9L1489.4 394.9L1491.6 394.9L1493.7 394.9L1495.9 394.9L1498.0 395.0L1500.1 395.0L1502.3 395.0L1504.4 395.0L1506.6 395.0L1508.7 395.0L1510.9 395.0L1513.0 395.0L1515.2 394.9L1517.3 394.9L1519.4 394.9L1521.6 394.9L1523.7 394.9L1525.9 394.9L1528.0 394.9L1530.2 394.9L1532.3 394.8L1534.4 394.8L1536.6 394.8L1538.7 394.8L1540.9 394.8L1543.0 394.7L1545.2 394.7L1547.3 394.7L1549.4 394.7L1551.6 394.6L1553.7 394.6L1555.9 394.6L1558.0 394.6L1560.2 394.5L1562.3 394.5L1564.4 394.5L1566.6 394.4L1568.7 394.4L1570.9 394.4L1573.0 394.3L1575.1 394.3L1577.3 394.3L1579.4 394.2L1581.6 394.2L1583.7 394.2L1585.8 394.1L1588.0 394.1L1590.1 394.1L1592.3 394.0L1594.4 394.0L1596.5 394.0L1598.7 393.9L1600.8 393.9L1603.0 393.9L1605.1 393.8L1607.2 393.8L1609.4 393.8L1611.5 393.8L1613.7 393.7L1615.8 393.7L1617.9 393.7L1620.1 393.6L1622.2 393.6L1624.4 393.6L1626.5 393.6L1628.6 393.5L1630.8 393.5L1632.9 393.5L1635.0 393.5L1637.2 393.4L1639.3 393.4L1641.5 393.4L1643.6 393.4L1645.7 393.4L1647.9 393.3L1650.0 393.3L1652.1 393.3L1654.3 393.3L1656.4 393.3L1658.6 393.3L1660.7 393.3L1662.8 393.3L1665.0 393.2L1667.1 393.2L1669.2 393.2L1671.4 393.2L1673.5 393.2L1675.6 393.2L1677.8 393.2L1679.9 393.3L1682.1 393.3L1684.2 393.3L1686.3 393.3L1688.5 393.3L1690.6 393.3L1692.7 393.3L1694.9 393.3L1697.0 393.4L1699.1 393.4L1701.3 393.4L1703.4 393.5L1705.5 393.5L1707.7 393.5L1709.8 393.6L1711.9 393.6L1714.1 393.6L1716.2 393.7L1718.3 393.7L1720.5 393.8L1722.6 393.8L1724.7 393.9L1726.9 393.9L1729.0 394.0L1731.1 394.1L1733.3 394.1L1735.4 394.2L1737.5 394.3L1739.7 394.3L1741.8 394.4L1742.2 384.2L1740.0 384.2L1737.9 384.1L1735.7 384.0L1733.6 383.9L1731.5 383.9L1729.3 383.8L1727.2 383.7L1725.0 383.7L1722.9 383.6L1720.7 383.6L1718.6 383.5L1716.4 383.5L1714.3 383.4L1712.1 383.4L1710.0 383.4L1707.8 383.3L1705.7 383.3L1703.5 383.3L1701.4 383.2L1699.3 383.2L1697.1 383.2L1695.0 383.1L1692.8 383.1L1690.7 383.1L1688.5 383.1L1686.4 383.1L1684.2 383.1L1682.1 383.1L1680.0 383.1L1677.8 383.0L1675.7 383.0L1673.5 383.0L1671.4 383.0L1669.2 383.0L1667.1 383.0L1664.9 383.0L1662.8 383.1L1660.7 383.1L1658.5 383.1L1656.4 383.1L1654.2 383.1L1652.1 383.1L1649.9 383.1L1647.8 383.1L1645.6 383.2L1643.5 383.2L1641.4 383.2L1639.2 383.2L1637.1 383.2L1634.9 383.3L1632.8 383.3L1630.7 383.3L1628.5 383.3L1626.4 383.4L1624.2 383.4L1622.1 383.4L1619.9 383.4L1617.8 383.5L1615.7 383.5L1613.5 383.5L1611.4 383.6L1609.2 383.6L1607.1 383.6L1605.0 383.6L1602.8 383.7L1600.7 383.7L1598.5 383.7L1596.4 383.8L1594.2 383.8L1592.1 383.8L1590.0 383.9L1587.8 383.9L1585.7 383.9L1583.5 384.0L1581.4 384.0L1579.3 384.0L1577.1 384.1L1575.0 384.1L1572.8 384.1L1570.7 384.2L1568.6 384.2L1566.4 384.2L1564.3 384.3L1562.2 384.3L1560.0 384.3L1557.9 384.4L1555.7 384.4L1553.6 384.4L1551.5 384.4L1549.3 384.5L1547.2 384.5L1545.0 384.5L1542.9 384.5L1540.8 384.6L1538.6 384.6L1536.5 384.6L1534.4 384.6L1532.2 384.6L1530.1 384.7L1527.9 384.7L1525.8 384.7L1523.7 384.7L1521.5 384.7L1519.4 384.7L1517.3 384.7L1515.1 384.7L1513.0 384.8L1510.8 384.8L1508.7 384.8L1506.6 384.8L1504.4 384.8L1502.3 384.8L1500.2 384.8L1498.0 384.8L1495.9 384.7L1493.8 384.7L1491.6 384.7L1489.5 384.7L1487.4 384.7L1485.2 384.7L1483.1 384.7L1480.9 384.6L1478.8 384.6L1476.7 384.6L1474.5 384.6L1472.4 384.5L1470.3 384.5L1468.1 384.5L1466.0 384.4L1463.9 384.4L1461.7 384.3L1459.6 384.3L1457.5 384.3L1455.3 384.2L1453.2 384.1L1451.1 384.1L1448.9 384.0L1446.8 384.0L1444.7 383.9L1442.5 383.8L1440.4 383.8L1438.3 383.7L1436.1 383.6L1434.0 383.5L1431.9 383.5L1429.7 383.4L1427.6 383.3L1425.4 383.2L1423.3 383.1L1421.2 383.0L1419.0 383.0L1416.9 382.9L1414.7 382.8L1412.6 382.7L1410.4 382.7L1408.3 382.6L1406.1 382.5L1404.0 382.4L1401.8 382.4L1399.7 382.3L1397.5 382.3L1395.4 382.2L1393.2 382.2L1391.1 382.2L1388.9 382.1L1386.8 382.1L1384.6 382.1L1382.4 382.1L1380.3 382.1L1378.1 382.1L1376.0 382.1L1373.8 382.2L1371.6 382.2L1369.5 382.3L1367.3 382.3L1365.2 382.4L1363.0 382.5L1360.9 382.5L1358.7 382.6L1356.6 382.7L1354.4 382.8L1352.3 382.9L1350.1 383.0L1348.0 383.1L1345.8 383.2L1343.7 383.3L1341.5 383.4L1339.4 383.5L1337.3 383.6L1335.1 383.7L1333.0 383.8L1330.8 383.9L1328.7 384.0L1326.6 384.1L1324.4 384.2L1322.3 384.3L1320.2 384.3L1318.1 384.4L1315.9 384.5L1313.8 384.5L1311.7 384.6L1309.6 384.7L1307.4 384.7L1305.3 384.7L1303.2 384.8L1301.1 384.8L1299.0 384.8L1296.9 384.8L1294.7 384.8L1292.6 384.7L1290.5 384.7L1288.4 384.7L1286.3 384.6L1284.2 384.5L1282.0 384.5L1279.9 384.4L1277.8 384.3L1275.7 384.2L1273.5 384.1L1271.4 384.0L1269.3 383.9L1267.1 383.8L1265.0 383.7L1262.8 383.6L1260.7 383.5L1258.5 383.4L1256.4 383.4L1254.2 383.3L1252.1 383.2L1249.9 383.1L1247.8 383.0L1245.6 382.9L1243.5 382.9L1241.3 382.8L1239.2 382.8L1237.0 382.7L1234.8 382.7L1232.7 382.7L1230.5 382.7L1228.3 382.7L1226.1 382.7L1224.0 382.8L1221.8 382.8L1219.6 382.9L1217.4 383.0L1215.3 383.1L1213.1 383.2L1210.9 383.3L1208.8 383.5L1206.6 383.6L1204.4 383.8L1202.3 383.9L1200.1 384.1L1198.0 384.3L1195.8 384.4L1193.7 384.6L1191.5 384.8L1189.4 385.0L1187.3 385.1L1185.1 385.3L1183.0 385.5L1180.9 385.7L1178.7 385.8L1176.6 386.0L1174.5 386.1L1172.4 386.3L1170.3 386.4L1168.1 386.5L1166.0 386.6L1163.9 386.7L1161.8 386.8L1159.7 386.9L1157.6 386.9L1155.5 387.0L1153.4 387.0L1151.3 387.0L1149.2 387.0L1147.1 387.0L1145.0 387.0L1142.9 386.9L1140.8 386.8L1138.8 386.7L1136.7 386.6L1134.6 386.4L1132.5 386.2L1130.4 386.0L1128.3 385.8L1126.2 385.6L1124.1 385.4L1122.0 385.1L1119.8 384.8L1117.7 384.6L1115.6 384.3L1113.5 384.0L1111.3 383.7L1109.2 383.4L1107.0 383.1L1104.9 382.9L1102.7 382.6L1100.6 382.3L1098.4 382.1L1096.2 381.8L1094.0 381.6L1091.9 381.3L1089.7 381.1L1087.5 381.0L1085.3 380.8L1083.1 380.7L1080.9 380.6L1078.7 380.5L1076.5 380.4L1074.3 380.4L1072.0 380.4L1069.8 380.5L1067.6 380.5L1065.4 380.6L1063.2 380.8L1061.0 380.9L1058.8 381.1L1056.6 381.4L1054.4 381.6L1052.2 381.9L1050.0 382.2L1047.8 382.5L1045.7 382.8L1043.5 383.1L1041.3 383.5L1039.1 383.9L1037.0 384.3L1034.8 384.7L1032.6 385.1L1030.5 385.5L1028.3 385.9L1026.1 386.4L1024.0 386.8L1021.8 387.3L1019.7 387.7L1017.5 388.2L1015.4 388.7L1013.2 389.1L1011.1 389.6L1009.0 390.1L1006.8 390.5L1004.7 391.0L1002.6 391.4L1000.4 391.9L998.3 392.3L996.2 392.8L994.1 393.2L992.0 393.6L989.9 394.0L987.7 394.4L985.6 394.8L983.5 395.1L981.4 395.5L979.3 395.8L977.2 396.1L975.1 396.4L973.1 396.6L971.0 396.9L968.9 397.1L966.8 397.3L964.7 397.4L962.7 397.6L960.6 397.7L958.5 397.8L956.5 397.8L954.4 397.8L952.3 397.8L950.3 397.8L948.2 397.7L946.2 397.6L944.2 397.4L942.1 397.2L940.1 397.0L938.0 396.7L936.0 396.4L933.9 396.0L931.9 395.6L929.8 395.2L927.7 394.7L925.7 394.2L923.6 393.7L921.5 393.1L919.4 392.5L917.4 391.9L915.3 391.3L913.2 390.6L911.1 389.9L909.0 389.2L906.9 388.4L904.8 387.7L902.7 386.9L900.6 386.1L898.4 385.3L896.3 384.5L894.2 383.7L892.1 382.9L889.9 382.0L887.8 381.2L885.6 380.3L883.5 379.5L881.3 378.7L879.1 377.9L876.9 377.1L874.7 376.3L872.5 375.6L870.3 374.8L868.1 374.1L865.9 373.5L863.7 372.9L861.4 372.3L859.2 371.8L856.9 371.4L854.6 371.0L852.4 370.6L850.1 370.4L847.8 370.2L845.5 370.0L843.2 369.9L840.9 369.9L838.7 370.0L836.4 370.1L834.1 370.3L831.8 370.5L829.5 370.8L827.2 371.2L825.0 371.6L822.7 372.1L820.4 372.7L818.1 373.3L815.9 374.0L813.6 374.8L811.4 375.6L809.1 376.5L806.8 377.4L804.6 378.4L802.4 379.5L800.1 380.6L797.9 381.8L795.7 383.0L793.4 384.3L791.2 385.6L789.0 387.0L786.8 388.4L784.6 389.9L782.4 391.4L780.2 393.0L778.0 394.6L775.8 396.2L773.7 397.9L771.5 399.6L769.3 401.3L767.1 403.1L764.9 404.9L762.8 406.7L760.6 408.6L758.4 410.4L756.3 412.3L754.1 414.2L752.0 416.1L749.8 418.1L747.7 420.0L745.5 421.9L743.4 423.9L741.2 425.8L739.1 427.8L737.0 429.7L734.8 431.7L732.7 433.6L730.6 435.5L728.4 437.4L726.3 439.3L724.2 441.2L722.1 443.0L719.9 444.9L717.8 446.7L715.7 448.4L713.6 450.2L711.5 451.9L709.4 453.5L707.3 455.2L705.2 456.7L703.1 458.3L701.1 459.8L699.0 461.2L696.9 462.6L694.9 463.9L692.8 465.2L690.7 466.4L688.7 467.6L686.7 468.7L684.6 469.7L682.6 470.7L680.6 471.5L678.6 472.4L676.6 473.1L674.6 473.8L672.7 474.4L670.7 474.9L668.7 475.3L666.8 475.7L664.8 476.0L662.9 476.2L661.0 476.3L659.1 476.3L657.2 476.3L655.2 476.1L653.3 475.9L651.4 475.6L649.5 475.2L647.6 474.7L645.7 474.2L643.7 473.5L641.8 472.7L639.8 471.8L637.9 470.8L635.9 469.8L633.9 468.6L631.9 467.4L629.8 466.0L627.8 464.6L625.8 463.1L623.7 461.5L621.7 459.8L619.6 458.0L617.6 456.1L615.5 454.2L613.4 452.2L611.3 450.1L609.3 447.9L607.2 445.7L605.1 443.4L603.0 441.0L600.9 438.6L598.8 436.1L596.7 433.6L594.6 430.9L592.4 428.3L590.3 425.5L588.2 422.8L586.1 419.9L584.0 417.1L581.9 414.2L579.7 411.2L577.6 408.2L575.5 405.1L573.4 402.1L571.3 398.9L569.1 395.8L567.0 392.6L564.9 389.4L562.7 386.2L560.6 382.9L558.5 379.6L556.3 376.3L554.2 373.0L552.1 369.6L549.9 366.3L547.8 363.0L545.6 359.7L543.5 356.4L541.3 353.1L539.2 349.8L537.0 346.5L534.9 343.3L532.7 340.1L530.6 337.0L528.4 333.9L526.2 330.9L524.1 327.9L521.9 324.9L519.7 322.1L517.5 319.3L515.3 316.5L513.1 313.9L510.9 311.3L508.7 308.8L506.5 306.4L504.3 304.1L502.1 301.9L499.8 299.8L497.6 297.9L495.3 296.0L493.0 294.2L490.7 292.6L488.4 291.0L486.1 289.6L483.7 288.4L481.3 287.3L478.9 286.3L476.5 285.5L474.0 284.8L471.5 284.3L469.0 284.0L466.5 283.9L464.0 283.9L461.5 284.2L458.9 284.6L456.4 285.3L453.9 286.1L451.4 287.2L449.0 288.4L446.6 289.9L444.2 291.5L441.8 293.4L439.5 295.4L437.1 297.6L434.8 300.0L432.6 302.6L430.3 305.4L428.1 308.4L425.8 311.6L423.6 315.0L421.4 318.5L419.2 322.3L417.0 326.2L414.8 330.4L412.6 334.7L410.5 339.2L408.3 343.9L406.1 348.9L403.9 354.0L401.8 359.3L399.6 364.8L397.5 370.5L395.3 376.4L393.1 382.4L391.0 388.7L388.8 395.2L386.7 401.9L384.5 408.8L382.4 415.9L380.2 423.1L378.1 430.6L375.9 438.3L373.8 446.1L371.6 454.2L369.5 462.5L367.3 470.9L365.2 479.6L363.0 488.5L360.9 497.5L358.7 506.7L356.6 516.1L354.5 525.7L352.3 535.4L350.2 545.4L348.0 555.5L345.9 565.7L343.7 576.1L341.6 586.7L339.4 597.4L337.3 608.3L335.2 619.3L333.0 630.5L330.9 641.8L328.7 653.2L326.6 664.8L324.5 676.5L322.3 688.3L320.2 700.2L318.0 712.3L315.9 724.4L313.7 736.7L311.6 749.1L309.5 761.6L307.3 774.2L305.2 786.9L303.0 799.7L300.9 812.5L298.8 825.5L296.6 838.5L294.5 851.6L292.3 864.8L290.2 878.0L288.0 891.3L285.9 904.7L283.8 918.1L281.6 931.6L279.5 945.1L277.3 958.7L275.2 972.3L273.1 985.9L270.9 999.6L268.8 1013.3L266.6 1027.0L264.5 1040.7L262.4 1054.5L260.2 1068.2L258.1 1082.0L255.9 1095.7L253.8 1109.5L251.7 1123.2L249.5 1137.0L247.4 1150.7L245.2 1164.4L243.1 1178.1L241.0 1191.7Z" fill="#0000ff"/>
</g>
<rect x="1271.00" y="848.90" width="413.20" height="346.00" fill="#fff" stroke="#000" stroke-width="1.8"/>
<line x1="1280" y1="898.8" x2="1417.6" y2="898.8" stroke="#000000" stroke-width="10.2" stroke-linecap="round"/>
<text transform="translate(1437.20 920.60) skewX(-11.0)" class="t" font-size="62.5">ϕ</text>
<text transform="translate(1485.00 920.00) scale(1 1.020)" class="s" font-size="62.5" xml:space="preserve">= 0.35,</text>
<line x1="1280" y1="982.8" x2="1417.6" y2="982.8" stroke="#ff0000" stroke-width="10.2" stroke-linecap="round"/>
<text transform="translate(1437.20 1004.60) skewX(-11.0)" class="t" font-size="62.5">ϕ</text>
<text transform="translate(1485.00 1004.00) scale(1 1.020)" class="s" font-size="62.5" xml:space="preserve">= 0.36,</text>
<line x1="1280" y1="1066.8" x2="1417.6" y2="1066.8" stroke="#00ff00" stroke-width="10.2" stroke-linecap="round"/>
<text transform="translate(1437.20 1088.60) skewX(-11.0)" class="t" font-size="62.5">ϕ</text>
<text transform="translate(1485.00 1088.00) scale(1 1.020)" class="s" font-size="62.5" xml:space="preserve">= 0.37,</text>
<line x1="1280" y1="1150.8" x2="1417.6" y2="1150.8" stroke="#0000ff" stroke-width="10.2" stroke-linecap="round"/>
<text transform="translate(1437.20 1172.60) skewX(-11.0)" class="t" font-size="62.5">ϕ</text>
<text transform="translate(1485.00 1172.00) scale(1 1.020)" class="s" font-size="62.5" xml:space="preserve">= 0.38.</text>
<clipPath id="k1"><path clip-rule="evenodd" d="M-400 -200H400V100H-400ZM2.78 -6.91H17.74V3.00H2.78ZM24.55 -6.91H37.54V3.00H24.55Z"/></clipPath>
<text transform="translate(130.33 110.47) scale(1 1.020)" class="s" font-size="63.0" clip-path="url(#k1)" dx="2.52 -2.52 0.00" xml:space="preserve">1.2</text>
<clipPath id="k2"><path clip-rule="evenodd" d="M-400 -200H400V100H-400ZM2.78 -6.91H17.74V3.00H2.78ZM24.55 -6.91H37.54V3.00H24.55Z"/></clipPath>
<text transform="translate(181.47 407.00) scale(1 1.020)" class="s" font-size="63.0" clip-path="url(#k2)" dx="2.52" xml:space="preserve">1</text>
<text transform="translate(130.33 769.93) scale(1 1.020)" class="s" font-size="63.0" xml:space="preserve">0.8</text>
<text transform="translate(130.33 1238.10) scale(1 1.020)" class="s" font-size="63.0" xml:space="preserve">0.6</text>
<clipPath id="k3"><path clip-rule="evenodd" d="M-400 -200H400V100H-400ZM3.08 -7.28H19.20V3.00H3.08ZM26.45 -7.28H40.44V3.00H26.45Z"/></clipPath>
<text transform="translate(1109.60 1316.50) scale(1 1.035)" class="s" font-size="68.0" clip-path="url(#k3)" dx="2.72 -2.72" xml:space="preserve">10</text>
<clipPath id="k4"><path clip-rule="evenodd" d="M-400 -200H400V100H-400ZM15.31 -5.30H25.30V3.00H15.31ZM30.20 -5.30H38.89V3.00H30.20Z"/></clipPath>
<text transform="translate(1185.60 1283.50) scale(1 1.020)" class="s" font-size="41.5" clip-path="url(#k4)" dx="0.00 1.66" xml:space="preserve">-1</text>
<clipPath id="k5"><path clip-rule="evenodd" d="M-400 -200H400V100H-400ZM74.89 -7.28H91.01V3.00H74.89ZM98.25 -7.28H112.25V3.00H98.25Z"/></clipPath>
<text transform="translate(1503.00 1316.50) scale(1 1.035)" class="s" font-size="68.0" clip-path="url(#k5)" dx="0.00 0.00 2.72 -2.72" xml:space="preserve">2x10</text>
<clipPath id="k6"><path clip-rule="evenodd" d="M-400 -200H400V100H-400ZM15.31 -5.30H25.30V3.00H15.31ZM30.20 -5.30H38.89V3.00H30.20Z"/></clipPath>
<text transform="translate(1650.60 1283.50) scale(1 1.020)" class="s" font-size="41.5" clip-path="url(#k6)" dx="0.00 1.66" xml:space="preserve">-1</text>
<text transform="translate(854.88 1408.21) scale(0.8954 0.8332)" class="t" font-size="100" style="stroke-width:0.58px">q</text>
<text transform="translate(899.20 1406.20) scale(1 1.020)" class="s" font-size="67.8" xml:space="preserve">, [nm</text>
<clipPath id="k7"><path clip-rule="evenodd" d="M-400 -200H400V100H-400ZM15.31 -5.30H25.30V3.00H15.31ZM30.20 -5.30H38.89V3.00H30.20Z"/></clipPath>
<text transform="translate(1050.40 1373.40) scale(1 1.020)" class="s" font-size="41.5" clip-path="url(#k7)" dx="0.00 1.66" xml:space="preserve">-1</text>
<text transform="translate(1086.90 1406.20) scale(1 1.020)" class="s" font-size="67.8" xml:space="preserve">]</text>
<g transform="rotate(-90)">
<text transform="translate(-638.83 76.03) scale(0.9255 0.8350)" class="t" font-size="100" style="stroke-width:0.57px">S</text>
<text transform="translate(-596.03 75.24) scale(0.8765 0.8084)" class="t" font-size="100" style="stroke-width:0.59px">(</text>
<text transform="translate(-571.96 75.86) scale(0.8165 0.7791)" class="t" font-size="100" style="stroke-width:0.63px">q</text>
<text transform="translate(-535.35 75.24) scale(0.8667 0.8084)" class="t" font-size="100" style="stroke-width:0.60px">)</text>
<text transform="translate(-505.30 75.20) scale(1 0.975)" class="s" font-size="68.5" xml:space="preserve">, [a.u.]</text>
</g>
</svg></body></html>
